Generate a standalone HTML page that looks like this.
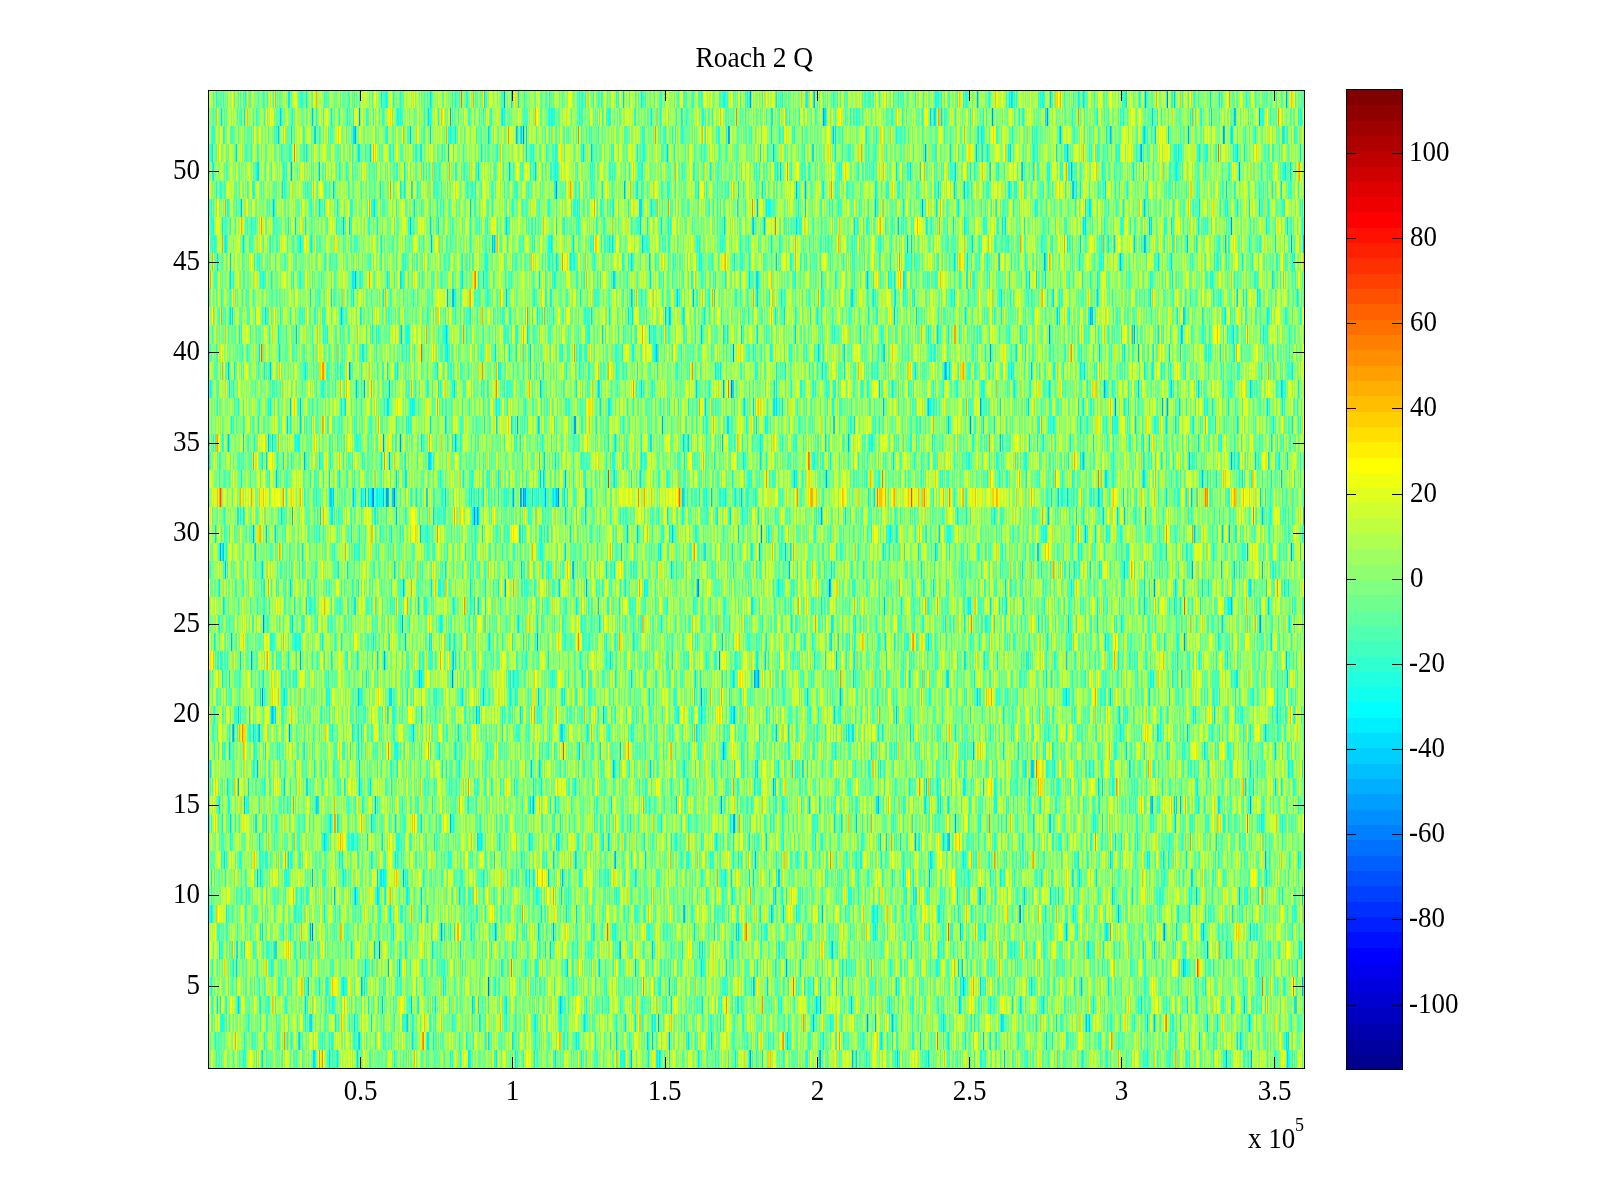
<!DOCTYPE html><html><head><meta charset="utf-8"><title>Roach 2 Q</title><style>html,body{margin:0;padding:0;background:#fff;}body{width:1600px;height:1200px;position:relative;overflow:hidden;font-family:"Liberation Serif","Times New Roman",serif;color:#000;}.k{position:absolute;background:#000;}.b{position:absolute;}.t{position:absolute;font-size:27px;line-height:27px;height:27px;white-space:nowrap;transform:scaleY(1.08);transform-origin:50% 50%;filter:grayscale(1);}.yl{width:100px;text-align:right;}.xl{width:100px;text-align:center;}#cv{position:absolute;left:208px;top:90px;width:1096px;height:978px;image-rendering:pixelated;}</style></head><body><div style="position:absolute;left:208px;top:90px;width:1096px;height:978px;background:#86fc78"></div><div style="position:absolute;left:208px;top:488px;width:1096px;height:19px;background:linear-gradient(90deg,#c8f136 0px 96px,#73ff8c 96px 105px,#64f99a 105px 151px,#2ee6d0 151px 190px,#76fc88 190px 278px,#62fb9c 278px 312px,#2eead0 312px 352px,#7bfc83 352px 399px,#c3f83b 399px 459px,#ece812 459px 473px,#56f9a8 473px 494px,#53fcab 494px 550px,#a9f955 550px 602px,#b6f349 602px 649px,#78f986 649px 668px,#d7e527 668px 723px,#a0f55e 723px 750px,#c5f439 750px 826px,#61fb9d 826px 894px,#99fa65 894px 933px,#a0f85e 933px 955px,#6df991 955px 989px,#cfd430 989px 1000px,#76ff88 1000px 1022px,#d5ed29 1022px 1049px,#7ffc7f 1049px 1096px)"></div><canvas id="cv" width="1096" height="978"></canvas><div class="k" style="left:208px;top:90px;width:1097px;height:1px"></div><div class="k" style="left:208px;top:1068px;width:1097px;height:1px"></div><div class="k" style="left:208px;top:90px;width:1px;height:979px"></div><div class="k" style="left:1304px;top:90px;width:1px;height:979px"></div><div class="k" style="left:360px;top:1057px;width:1px;height:11px"></div><div class="k" style="left:360px;top:91px;width:1px;height:10px"></div><div class="t xl" style="left:310.50px;top:1077.00px">0.5</div><div class="k" style="left:512px;top:1057px;width:1px;height:11px"></div><div class="k" style="left:512px;top:91px;width:1px;height:10px"></div><div class="t xl" style="left:462.50px;top:1077.00px">1</div><div class="k" style="left:665px;top:1057px;width:1px;height:11px"></div><div class="k" style="left:665px;top:91px;width:1px;height:10px"></div><div class="t xl" style="left:614.50px;top:1077.00px">1.5</div><div class="k" style="left:817px;top:1057px;width:1px;height:11px"></div><div class="k" style="left:817px;top:91px;width:1px;height:10px"></div><div class="t xl" style="left:767.50px;top:1077.00px">2</div><div class="k" style="left:969px;top:1057px;width:1px;height:11px"></div><div class="k" style="left:969px;top:91px;width:1px;height:10px"></div><div class="t xl" style="left:919.50px;top:1077.00px">2.5</div><div class="k" style="left:1121px;top:1057px;width:1px;height:11px"></div><div class="k" style="left:1121px;top:91px;width:1px;height:10px"></div><div class="t xl" style="left:1071.50px;top:1077.00px">3</div><div class="k" style="left:1274px;top:1057px;width:1px;height:11px"></div><div class="k" style="left:1274px;top:91px;width:1px;height:10px"></div><div class="t xl" style="left:1224.50px;top:1077.00px">3.5</div><div class="k" style="left:209px;top:986px;width:10px;height:1px"></div><div class="k" style="left:1293px;top:986px;width:11px;height:1px"></div><div class="t yl" style="left:100.00px;top:971.00px">5</div><div class="k" style="left:209px;top:895px;width:10px;height:1px"></div><div class="k" style="left:1293px;top:895px;width:11px;height:1px"></div><div class="t yl" style="left:100.00px;top:880.00px">10</div><div class="k" style="left:209px;top:805px;width:10px;height:1px"></div><div class="k" style="left:1293px;top:805px;width:11px;height:1px"></div><div class="t yl" style="left:100.00px;top:790.00px">15</div><div class="k" style="left:209px;top:714px;width:10px;height:1px"></div><div class="k" style="left:1293px;top:714px;width:11px;height:1px"></div><div class="t yl" style="left:100.00px;top:699.00px">20</div><div class="k" style="left:209px;top:624px;width:10px;height:1px"></div><div class="k" style="left:1293px;top:624px;width:11px;height:1px"></div><div class="t yl" style="left:100.00px;top:609.00px">25</div><div class="k" style="left:209px;top:533px;width:10px;height:1px"></div><div class="k" style="left:1293px;top:533px;width:11px;height:1px"></div><div class="t yl" style="left:100.00px;top:518.00px">30</div><div class="k" style="left:209px;top:443px;width:10px;height:1px"></div><div class="k" style="left:1293px;top:443px;width:11px;height:1px"></div><div class="t yl" style="left:100.00px;top:428.00px">35</div><div class="k" style="left:209px;top:352px;width:10px;height:1px"></div><div class="k" style="left:1293px;top:352px;width:11px;height:1px"></div><div class="t yl" style="left:100.00px;top:337.00px">40</div><div class="k" style="left:209px;top:262px;width:10px;height:1px"></div><div class="k" style="left:1293px;top:262px;width:11px;height:1px"></div><div class="t yl" style="left:100.00px;top:247.00px">45</div><div class="k" style="left:209px;top:171px;width:10px;height:1px"></div><div class="k" style="left:1293px;top:171px;width:11px;height:1px"></div><div class="t yl" style="left:100.00px;top:156.00px">50</div><div class="b" style="left:1346px;top:90px;width:56px;height:15px;background:#800000"></div><div class="b" style="left:1346px;top:105px;width:56px;height:16px;background:#8f0000"></div><div class="b" style="left:1346px;top:121px;width:56px;height:15px;background:#9f0000"></div><div class="b" style="left:1346px;top:136px;width:56px;height:15px;background:#af0000"></div><div class="b" style="left:1346px;top:151px;width:56px;height:16px;background:#bf0000"></div><div class="b" style="left:1346px;top:167px;width:56px;height:15px;background:#cf0000"></div><div class="b" style="left:1346px;top:182px;width:56px;height:15px;background:#df0000"></div><div class="b" style="left:1346px;top:197px;width:56px;height:15px;background:#ef0000"></div><div class="b" style="left:1346px;top:212px;width:56px;height:16px;background:#ff0000"></div><div class="b" style="left:1346px;top:228px;width:56px;height:15px;background:#ff1000"></div><div class="b" style="left:1346px;top:243px;width:56px;height:15px;background:#ff2000"></div><div class="b" style="left:1346px;top:258px;width:56px;height:16px;background:#ff3000"></div><div class="b" style="left:1346px;top:274px;width:56px;height:15px;background:#ff4000"></div><div class="b" style="left:1346px;top:289px;width:56px;height:15px;background:#ff5000"></div><div class="b" style="left:1346px;top:304px;width:56px;height:16px;background:#ff6000"></div><div class="b" style="left:1346px;top:320px;width:56px;height:15px;background:#ff7000"></div><div class="b" style="left:1346px;top:335px;width:56px;height:15px;background:#ff8000"></div><div class="b" style="left:1346px;top:350px;width:56px;height:16px;background:#ff8f00"></div><div class="b" style="left:1346px;top:366px;width:56px;height:15px;background:#ff9f00"></div><div class="b" style="left:1346px;top:381px;width:56px;height:15px;background:#ffaf00"></div><div class="b" style="left:1346px;top:396px;width:56px;height:16px;background:#ffbf00"></div><div class="b" style="left:1346px;top:412px;width:56px;height:15px;background:#ffcf00"></div><div class="b" style="left:1346px;top:427px;width:56px;height:15px;background:#ffdf00"></div><div class="b" style="left:1346px;top:442px;width:56px;height:16px;background:#ffef00"></div><div class="b" style="left:1346px;top:458px;width:56px;height:15px;background:#ffff00"></div><div class="b" style="left:1346px;top:473px;width:56px;height:15px;background:#efff10"></div><div class="b" style="left:1346px;top:488px;width:56px;height:15px;background:#dfff20"></div><div class="b" style="left:1346px;top:503px;width:56px;height:16px;background:#cfff30"></div><div class="b" style="left:1346px;top:519px;width:56px;height:15px;background:#bfff40"></div><div class="b" style="left:1346px;top:534px;width:56px;height:15px;background:#afff50"></div><div class="b" style="left:1346px;top:549px;width:56px;height:16px;background:#9fff60"></div><div class="b" style="left:1346px;top:565px;width:56px;height:15px;background:#8fff70"></div><div class="b" style="left:1346px;top:580px;width:56px;height:15px;background:#80ff80"></div><div class="b" style="left:1346px;top:595px;width:56px;height:16px;background:#70ff8f"></div><div class="b" style="left:1346px;top:611px;width:56px;height:15px;background:#60ff9f"></div><div class="b" style="left:1346px;top:626px;width:56px;height:15px;background:#50ffaf"></div><div class="b" style="left:1346px;top:641px;width:56px;height:16px;background:#40ffbf"></div><div class="b" style="left:1346px;top:657px;width:56px;height:15px;background:#30ffcf"></div><div class="b" style="left:1346px;top:672px;width:56px;height:15px;background:#20ffdf"></div><div class="b" style="left:1346px;top:687px;width:56px;height:15px;background:#10ffef"></div><div class="b" style="left:1346px;top:702px;width:56px;height:16px;background:#00ffff"></div><div class="b" style="left:1346px;top:718px;width:56px;height:15px;background:#00efff"></div><div class="b" style="left:1346px;top:733px;width:56px;height:15px;background:#00dfff"></div><div class="b" style="left:1346px;top:748px;width:56px;height:16px;background:#00cfff"></div><div class="b" style="left:1346px;top:764px;width:56px;height:15px;background:#00bfff"></div><div class="b" style="left:1346px;top:779px;width:56px;height:15px;background:#00afff"></div><div class="b" style="left:1346px;top:794px;width:56px;height:16px;background:#009fff"></div><div class="b" style="left:1346px;top:810px;width:56px;height:15px;background:#008fff"></div><div class="b" style="left:1346px;top:825px;width:56px;height:15px;background:#0080ff"></div><div class="b" style="left:1346px;top:840px;width:56px;height:16px;background:#0070ff"></div><div class="b" style="left:1346px;top:856px;width:56px;height:15px;background:#0060ff"></div><div class="b" style="left:1346px;top:871px;width:56px;height:15px;background:#0050ff"></div><div class="b" style="left:1346px;top:886px;width:56px;height:16px;background:#0040ff"></div><div class="b" style="left:1346px;top:902px;width:56px;height:15px;background:#0030ff"></div><div class="b" style="left:1346px;top:917px;width:56px;height:15px;background:#0020ff"></div><div class="b" style="left:1346px;top:932px;width:56px;height:16px;background:#0010ff"></div><div class="b" style="left:1346px;top:948px;width:56px;height:15px;background:#0000ff"></div><div class="b" style="left:1346px;top:963px;width:56px;height:15px;background:#0000ef"></div><div class="b" style="left:1346px;top:978px;width:56px;height:15px;background:#0000df"></div><div class="b" style="left:1346px;top:993px;width:56px;height:16px;background:#0000cf"></div><div class="b" style="left:1346px;top:1009px;width:56px;height:15px;background:#0000bf"></div><div class="b" style="left:1346px;top:1024px;width:56px;height:15px;background:#0000af"></div><div class="b" style="left:1346px;top:1039px;width:56px;height:16px;background:#00009f"></div><div class="b" style="left:1346px;top:1055px;width:56px;height:15px;background:#00008f"></div><div class="k" style="left:1346px;top:89px;width:57px;height:1px"></div><div class="k" style="left:1346px;top:1069px;width:57px;height:1px"></div><div class="k" style="left:1346px;top:89px;width:1px;height:981px"></div><div class="k" style="left:1402px;top:89px;width:1px;height:981px"></div><div class="k" style="left:1347px;top:153px;width:9px;height:1px"></div><div class="k" style="left:1392px;top:153px;width:10px;height:1px"></div><div class="t" style="left:1409.00px;top:138.00px">100</div><div class="k" style="left:1347px;top:238px;width:9px;height:1px"></div><div class="k" style="left:1392px;top:238px;width:10px;height:1px"></div><div class="t" style="left:1410.00px;top:223.00px">80</div><div class="k" style="left:1347px;top:323px;width:9px;height:1px"></div><div class="k" style="left:1392px;top:323px;width:10px;height:1px"></div><div class="t" style="left:1410.00px;top:308.00px">60</div><div class="k" style="left:1347px;top:408px;width:9px;height:1px"></div><div class="k" style="left:1392px;top:408px;width:10px;height:1px"></div><div class="t" style="left:1410.00px;top:393.00px">40</div><div class="k" style="left:1347px;top:494px;width:9px;height:1px"></div><div class="k" style="left:1392px;top:494px;width:10px;height:1px"></div><div class="t" style="left:1410.00px;top:479.00px">20</div><div class="k" style="left:1347px;top:579px;width:9px;height:1px"></div><div class="k" style="left:1392px;top:579px;width:10px;height:1px"></div><div class="t" style="left:1410.00px;top:564.00px">0</div><div class="k" style="left:1347px;top:664px;width:9px;height:1px"></div><div class="k" style="left:1392px;top:664px;width:10px;height:1px"></div><div class="t" style="left:1409.00px;top:649.00px">-20</div><div class="k" style="left:1347px;top:749px;width:9px;height:1px"></div><div class="k" style="left:1392px;top:749px;width:10px;height:1px"></div><div class="t" style="left:1409.00px;top:734.00px">-40</div><div class="k" style="left:1347px;top:834px;width:9px;height:1px"></div><div class="k" style="left:1392px;top:834px;width:10px;height:1px"></div><div class="t" style="left:1409.00px;top:819.00px">-60</div><div class="k" style="left:1347px;top:919px;width:9px;height:1px"></div><div class="k" style="left:1392px;top:919px;width:10px;height:1px"></div><div class="t" style="left:1409.00px;top:904.00px">-80</div><div class="k" style="left:1347px;top:1005px;width:9px;height:1px"></div><div class="k" style="left:1392px;top:1005px;width:10px;height:1px"></div><div class="t" style="left:1409.00px;top:990.00px">-100</div><div class="t" style="left:695.50px;top:42.50px;font-size:27.5px;transform:scaleY(1.055)">Roach 2 Q</div><div class="t" style="left:1248.00px;top:1125.00px">x 10</div><div class="t" style="left:1295.00px;top:1116.00px;font-size:18px;line-height:18px;height:18px">5</div><script>(function(){var c=document.getElementById("cv"),x=c.getContext("2d");var P=[0,0,143,0,0,159,0,0,175,0,0,191,0,0,207,0,0,223,0,0,239,0,0,255,0,16,255,0,32,255,0,48,255,0,64,255,0,80,255,0,96,255,0,112,255,0,128,255,0,143,255,0,159,255,0,175,255,0,191,255,0,207,255,0,223,255,0,239,255,0,255,255,16,255,239,32,255,223,48,255,207,64,255,191,80,255,175,96,255,159,112,255,143,128,255,128,143,255,112,159,255,96,175,255,80,191,255,64,207,255,48,223,255,32,239,255,16,255,255,0,255,239,0,255,223,0,255,207,0,255,191,0,255,175,0,255,159,0,255,143,0,255,128,0,255,112,0,255,96,0,255,80,0,255,64,0,255,48,0,255,32,0,255,16,0,255,0,0,239,0,0,223,0,0,207,0,0,191,0,0,175,0,0,159,0,0,143,0,0,128,0,0];var S="kkjikafhXdchddfafehdjjfimpbhifajaglacYdlqbbgmjdgfebfhfeZbjfYijqjfZjsgchcddfkhkfhWWgdhjmmmhdbbYadfdWcfkjdbmlpsghiijhgZcbechjihgeedhhjbjecedgdaakhbfZlbgiafkkiljjhjdifbgnngjffgWdbbYXZhojmhXdhegicYbdciogijjlfipmehlidlbfeZhhafdVYehhgifliijcbljghehdgYjeYccfafwghegYYffnegsgbddigbeqoVbafenllifhljekhfbbaRehejiiVagmqpeVefjggZedghfhgjiecmhkjebegibbdmXecfdgmjiidhfceejhelmnlheejhadZeaYefYhqdngefZkkeeZcjZbfkngcgeekokgiYcZolifUemfikaimjhkaekbifWcafajehedkjfajkghcaafhcikilgfhgjbleeZgmmmbabaihgicaZghjlbbeZbjmnjglginhdfijijaafbYXZdafoinldecicllZhofkZeXeXQcofjgehncghZkqfnifmihmnlbWhbeacYjcddkbeehiehfigdfirhinZWXcqlniWSghbkbjogbicjcihfcgYcchalgajohbebcljhhfjkffpkfohagbaedaaaicamelmgZfilhlodliednmZdeedYhcccbiiebcjiigfhYlfemkifZfmfmediilfcXYZYfeXpgbkoeaakhegmdeZorpjkYeZYachjichgldSYmjfjiidefbXciiiirklpihknjhgZheWaVWbZhYdgmlihglfighfogghiiikZcYdYXbjjhlcUZbjqcpqnjskfgZgfhicldjZfcfdWYejbVZdccjmlegfZhhelkkmkbbiceglnlgjifkjcjfiZdaZVmhimikcgfjjcXZikkZSZddhhccghiskjeeikijiYPkliZXiUaihkhrfZfmilfakoqhbZcgiaefggfihhdgfVeejgfgfdWkZbghijmitfgdbeldbghomiefeYcdddmlmfacgeejicdcfadihccfhkgZjiihbcfjhRZekkrpomaghcfgcdcdgfgdbfcrjgfcVdibgcgikkfkgikgbhcbZhfVfprgghkgagiZbeehjifZflqigmokkdhcdecUXefdhjlefebYdcpjhfpffceflbengfcTbkfXeglmhjZjimnihdWdgciijdXhkhfffeXhadehZkklofRclnggiYablemhYmdhngaigaZcjfioopobkigbXYdZabhfflgjchiifceekmdifheYhiaVZXbgmgmmfXgirpmpdfdmjRgagcehgaihfhdnjihbYdfljbfikiaicgYgcjpodaZghhhjjpihXWZXdjfdcfdghhjggnijhdcacbbjfkikefsonjldbgkgfeeaXcXYaZfefccijgjjjpikkhbiihggcgXdYbhfdhfeenmkcibhbnbklZclmabYXZlhfdhjckbcfnfgljlliijgmYYjicfkeifeekbchaWfffgbrfdYblikfokcjgjiiidYigifWXkeeZcdfgedgihpkjekdXYgakhZcmeYflmgghlrjmgibafbhdeedejvfgfbfcelYehchiflcigbeekbeenekZffieWWjidjecZjqfhlrZdiZfgjdgchgeYkmlednmeggfbkkgZbejfkhcRVVbgmibplgfahioonpifgaddigXdlZaeZaeZehaekghjfkibgjkeglhkmghdifbcdfgZZdfeqngiliXceoZjfiefkgkgdecdlcXcmnooggUZgZUWdktrcUcjZabeehlhjpdYemhkficggglldhXgrljgjehedfeXliYighjcQafkeehffhcmegfchlolgjaehjbXkfYXdkhmjjmhifdidgcfdkihoVXQbgjjdolhchfeghdldbghgefdXgcejhufcfmhajdekfeighceaXlkmeffahdeZiljdckghgakYdeXdggbfkhnmlnfcginnihedcidceccUccfgXnihYgheglgbkifqjfgdffbcfgijhiedjXetclZfnpfZXgefhijhZkUheeeegfbjfmiehleenecgbTUeijjbimflghialefdhihmjfSZbZZfjpnefYggcddbjuomieoggehgiadkcbkilXdZXelchibaZaejofenokXZedokjcabbdghkbfgmhhcfhccehahdmogcplkfeijcjibifiegYfYeTbhjmdmqeccegVfebjglkglmgZbhgokjjdfdVUfefZbihemiflagbbbfgiinqnmgbhgkZpdfkbbVVSbfeloigedkiffifhgmnbdhdihigghZYXkihhdbiemigeefmsegjcbbTefffgqkkfheebagjjdgUgfhlgkgjghngeehtiYaXaebbWdckmeegkaeojjicjjiklZfdfcaigedffUXbhldniidckgfkpcefoukjkmhkeTVdiWUbPdjUfemkghljhaggoigchebkofahbqhjacihcokfbbjcdaieiidhkbgvjjafdigaifaeaffdhahXkifcgfekfehlggfinddehmhgkbabdfdmeeklhikhjdfYZZkgidffdkbiujjbgaihaaYeliddiXikYlcgndYZaeeedfcggbmcidgikoesldYnpijnieeigZgXZjihhlhXeRSjmhghlfccfhejcecajfadZgjlcdmglobjkkokghdgVidggfffXZibZmnpjikkhZaXkffhgieYledbcfjcgdkcfjbfhdfkjgfinmlpcYTfVciabdiZeiggligeifigkdeghkijolbWecedjlbecXfegqpngbkggegrighicXadcaadfZchhbeglcjgilfdgkgabgmgfffcdghgcccjnkoifZedfhfadefifdmmhbcgksjhffeaiglefhXWffWYXakdngbkkmqnnaZefhdiokjijhceeXdfgdhjehklebfcrhejgXdbdZaegcddhhcifiehhhjkjicfWTadllnhimkjhcbYfecgekpleYmkcjacefbpijhZbfkgifiWfdcSWepfcghddcgjomlikdojmejifcamnihcWUYcZgihYcfaUkkgnoljlojgiUcdffhggfhejZehbclhcRcehpigcdeiicckchnlimjgekkohfdgdjicRTihhfiZVWdjlickhhhgedagglakhfcaXgfikfedjihjhpflodjikcgbdlhWWXhdYiiidmiZZaejedqlgibcZVgedbiqnmdfhmicedlkjhkeaUgijhndkdcZddgdYgllhiYbjjdjhkbcgijigjlbdehlchZaceddefYXchmwmfgjicefZXiVcckjbicmohigbihjkmlgefdclioeecccdcmledijfkbdnYdkhdbVWddfgiZcdebUfksnqmgibeeajljkohZYffXignnggcacgmeihflgmgbhZYcfeWWficghlemhnneehlbbhibZfaejgTgknmajikgedlifZfffjkgggjkhcildgeVcidbibachiedfdaYgermddfghhehpgdhllmhehjopahdVeeeZZdYdggjicbglkgiZadfffabfXYbllophgbklkkjiimebekjgkiYZVbdhqhhfTZbgdZhgccdjncjhhldiaaZjnkiclmkfcdjbdlkojhljhcWidagbXZcfhkghfcghpmfifnabbeeYUclogicXikgejifhgecjfamolhhadgfhdgZedZcfdkeklgndihlbabfghfdZchlglcicgcbclfjiiijcehehcieejngekVinelkkXbeeeeTbbeegipgoidaibjjfdhikieicihcbdXkmdfnkdVVhibifdddmedlofpodncibWhighfeagfecdYbajddfjjhqjitgjiaahZchefbaabgfnkhqiceZfkjedgkecigfgbciedfgqffoihZhjkghfjgjacRahfqfebcdYZnhlceigefgjmcVbeikeojYhhhZcfeimppioklgaTcbejZVdgebWbagkfhhkolkkffgkmreeWZUgibfiomigjieaieejhldibXYecZkdfhfikimhdheiigklVcgjfbfjYXaTZicgchkojmkfnghsofhefZeYfhkrcZZcjgeacdfaeiibikibYdaYhllondkijolpjfdeYdecURdakdgZacgnmbeechnglndmpkojmkcfecYYXhWcbYgckhihkmhhphpifYaWahgdaaXXljchnffaXjxjZkmkohhkfifhhXdYYVfdcjjfWfediefjjemnqjhkjhfecafdYclnYZgffffajcemnigdcdlfiiifihgdVfieeegiXWfghigfhkjhcgbbfgkljffemkebjdggkdhhjmifjbebYWVfjhkheahknfeajlkhgekejicYZdZgkjZSelfhfcieioiocigqjdlafbjfigaTjhbcjanhfljdjjmebhfXahelgfYadiimZefcfdhfidlkpjfgebefddbfalilcgfklbkbkhbhgbbgZZmehiklWajdnjchoficcfhihrfXfgZleZfirdZcdfcYbhkfijfegtlefdkYYhihkbgbYfcdhbhqillcYdVcfhhmgljifjdhlebadgjopjeZhifeeTaffaehonlhbcZdkmnjmhYegZbUakgnlfZhkbdlfiYZhbYXbXchngnkgimolgjhggncdZgkmfeiggggehZbYdbhmcbgmmkhfhjieZadafZcgkimfdkefZjlfYehmqlgfeZadYXieilhkgcefggekgejcelhmgdecdchhfbsjndbjcZdbdfjhhmohYYhecdmifdaqjhfkdWafqjddbaegcjgfdghicgcehmfZdjepajlldklmgekieaeZfgYflibbibdkgdjolcYcWciUbfdhimumebZhijionnfeZaeZamhZXchfihahdmfeccfdjhlgjkeonidccdYbZjimqkojibdkjefcbXhkgZbmbbbhaebcYfdbiiqlhgrohhdhdcgllkhVbcgomaeeigYZcVcdkhefgkdVonjsfccheifljaeadfqiZeamlphbgaaadYUiefijedmnlpaeeWeihXbedfhmirkijgekXUkjihgaaXghfgeZkjghlmkkgmllbhjkVTcaffjebhfbWrigYZdhlfimggXZXgfnklkjdmhYaZjlpthXXeSXfbcZkodZcgghjlpjddoljmmrffijeXaacjjbaekhhZcbgfcafdkjgkcjejebWdhamibngmVlighaiiieZfjhfdinidrdggmiZYefccXWZadalZhjopdhklkelgdfcadpjgcfZeffgehiifiekfkhfafgfgfaXeelpljigbRdgffjkhehjqehccphfdieXdihhebfbdbekinlidgbibYZWdbchVaejhcikrtjmicekogeieeXghcZYfdZcimojiijkdcdiebineekfjachnmaXZhjmlfebibfhmfidkgfcccckdhkcVeYadgfdkjqgffihgoiihchXhYbdcbjrojdbjknmofcZddfZeigTbcigifgkgihjgiYcikdbghihhldZiejeblibdeegbdhjhcWjccfhgceoujkZeifnmkWZgdWZkjkhnVWlmjfXbebkmhkhheqceklaZdbacdjYheheoaiedlgknfoohgcfjkhdbZbgcaYfeXhkheeaimmjhinefbYdjbijimemgiZhgdaflkgcacXbjhgdjkogbcZeecfklfgikhbhdeflhigekfihYWPbgedecefbkmgptqogeYbieXjoobhbcglecYcabhffgimcWehmlpkejcafdiemdheleiSXkihksffdidXWfgjZZbiifbfdjpkcpmlihghaadfgiYYaeeogeYligdfekdcchhkjjgjjiZbbWinnlobkYegjklfdcgfZicdccieacbYimcmreigkVgfilYdgjmmfjejgghZdaimcVdcaohbdgnjbbmadkifcfhgkimikfnnldfSZdaehniZSahlhdbdehgoiikldXWdggildpunggZcadcnegdllaYdbffacgffhflbfdgjjjkjfikkhgWXbhlhafjjdZZYhhpqnfiiaYZjfZeibmejjdefeihZeadgglhemlhgefbmnYZdcVfahinfoemolenncUabiiifkfZTedXadjYcijlqfdjojfaggaaYedjmiklngiolfgpgcieXVbakeYZXidlkqjlZcbkhkeadlhnheddbdbZkkfcXecmZekfponekmjpkXengjefUTabWgidWgfkojhliZijgjgfkcYdaieYcVjillkdjheXjhfYiglidhZXdimighfdheekieificbXhmnkigigbjlkhfghbdajbZafbmlXehbegdfhefagdkqqhhfhcZcaijhfeigfniedkecjmnegcgYbigUfgeedjgXYjlkdgkhilljiachnilhbfhcadcgZhdgZhhpcWgkagknjaVljlgeeacZbigclmhYimfldcbdXiaehqllfffldhtfXZcljlddfaedfYThgeqokeggellkeckiehgeeiidbgbffaTYdflihifogcckfchmgkemdddbejdolkegkdcbZgdndegcVZebgYfponhekgjcghWbgiimhchphnhYYZihdfmhdgchljfgamtlZaXVbeckichacbffdgiimdhojXhfjiknjlcbemeejfaVhchjdiYechjjlgbakfgjidXigacgYfhkidZdenijjaifahmigddkiijTchhZahhibflhmllebaimcYdkiiiifhifnddbjmefeYZehcejnkdYdecbbfjdopiineccahfggfmhcYZefgehibgiflidjpefkkmoahZZYfXdXlffabkibcenijmtndaljYabcgimZedZhZWjijmbjhijjfffkWicnkphokjjVVVcejjnfieaWcbcbasldfgZjdifdujbcbjjcnhbkkdadchhbZdlfiehehcbnndkgmcedbYmheXhlgYffYmkcagljidngffcglVZildgeeagjnigkvjfncSelnmmejbWaXXZbeabdfhjiikhhcfkelfkojegdahWfbidmfUoiffdgcofimhkeaajmekdfjXfeYghifcYcacgkjjgkngebdcnpdjgYecgidmidXnfghkbTcYcogjbsijgdkgccdfgccohmfhdWainngeafjhcgghfgcaRbeakmqifgkoeeVaiksngcfncaeekfggiodXWcgjkjacicdejeZdekggfeqYhehagdioeYjqkYWhpjbkbbbbgbekmogXdghehbipkhjjjifnckehcXYZkfcaegjeaekleehfaffhlfbbihjfjeceffgkeXeoncgllpmVebaVWailkmgbnkfjdmccdeZhigidjdZcdgiocWdlmhfenhibigfeernleZTYegZhdkggdceijdZgmgedgkcglkdXckknggbgebbgjjrmcicYfbdbcVfkfkklnchfifoqiihhkcXiiecYcXdgdkljecbWdjbgghkmfjgVmjgnlfhigVdbZeqehaXbiiimkfbdgeecaYZlmojgjekhjdmijcagXhkedZbXhglolkjfWdcabeicYiikfZjmfhlspkfcdafecYbbeZfdmdmujpncbihkingaadadddedjhjaedWlcikngUffiglkfqgWdhjefbchdiffekhdfljdcakilmhmiiYddcgadTbbmjjUaZjljihgjkgdmgcoifZYiejbhgdWhgfjbkkiicdfckknakebcjihkkllihZbTadbbiefnkljjmhkfeieUbkdifZcVifihadlmhefbgZbihehghmiagdkmjkcXchmfcbbfZhboihZfXhehjloomfahhdejleZUZbYhofjgiigklgiefjjagaeiZZhhXhdafdfgrokiijfiedfkmViiiogcXYiechddcieegZeYZdhgmklheockfjchiXahkiefZZefihifirfgdhicfgghnlghpglfZbgfdcaabUehilghWefknjchlnhdebVehjdfaXfXboolkgdohdhflebclliggafcffgdihcgegkffffokcecofagdcdbcUagnijdkqkffmckcafikndeihlheVTeaehfjdheYTakmkklgmjewoikcanmeYdakZjdaebcdVYgYYaknqhlkdiifcYgjgfdjiYdhddchffgnbodebfirpgggdhhechgllcVcbZakgomZflZXccldmcafihnqsklhnYbddmcbZebjlYTfhZdZhaaggkjaeaknnsnolkkhncWXieaYedjeicgtjgjcccgZkihggVidigfioieiWZZcZighhfclloiijggZZaZgijglmlgndYYjifVcaVhgmijeifiicegcejmiWfngbfgjemlcjfihfgdaccfgYgfijhiZjplehemfaZahggelhhokfelkelbVYVcffebjZhihjbjknaggXcfcgjfejchmijhkbXZbjnkngdYijhaZggljeadmqgiegTZVjfihagkiiljgYZZglhkVcYgkljloflfZfihcheqkiehnedWblccbcacZejkZklnedipfgifhekafceaQhjighfgmfbmggfijhcaenadhdgfjohhihgWcacgifeealpiomdjljbdVdebZkbiimcgmjcXbolcbZeYZbklijhtfYWXckhhhiejhijklehZVbghhjZacafhhgqjhlpfajlkfiZXjacggaagdmhojmkibggiebaejfbaZWbcdnnpkjeYWbgqjacgabffgfekkiifegfqjipefkhfbdbiiekcaggaacbfehfheghjifflggnlkdbfobWfgbiheedgdabgkfbfkgmelkafeebecfjmmljfahdfZekgjfgdScginmkeredcjiiZbieaecegcelgfdgidfncjlbYbkfghhpldhjdgeaaigahfTXTZqsmebbgmjniXekjmeefhikfbcdcahklljfdgYeXlkffdmmiehhgdYXZWYkhjekhjljpfdhfhphhdaVekhkbcdhgimdehdhZadYnrqonigXigYahacWbeVZfemmndbgiffcdhnlmijlejjlkedfUYbcaZcclihkhhmmibchaceZifYYeligelmadhfhicjhkhfkhmjpeebYdXbjiedhnhghfhhmfghddeZbZbbcimmficikhhklgdYcdfibbdYddhklhiimbdcgljiehhcheWbghgfhiYZcdhjgdlddmjifjskfjojcfbhehgjYefhajeiefdYbkcfYhaZdhaehgdhlsqcjljkmgachdcYfacajkrhcgacihkedfjmnjedfZaXehcjhgjjdcZhglfbklcjemkeeeSeeiUefamldagmjemfkkgcbdkgbjlhliohdcefccYakgbbbdbjdelimikrgiceceaUdfkigcYdakolnjfrjngilbYbdgedbagebabYficdekfebbctqljbaihlijhjjmffcehgXZbcbchimbZYhjedglogkgmtmkWeXahYnfidhdeUgjfeabfhkmnkjgmfcgacXZtdjeZWfdembUclinnkefkkijhlholjaUbcngcjYeaSUcffcfiipofdbglpkfcXlgeoggiYXrmaceigbflfbZThighlgZiWajnigfeelkokfeofkcgdcZZdkicfTanXaioognphgcckckjieifeXccihfdcbhZXdljgpkegkfjfghVijihflhkZmjjcbgRgdbfoknddjcThdfgskddeVcfgbcfkiahnhUfkheklhfglibbehdidjpnijXjdacZddekjeebjbcmhhjZfkijdfefabgdhokhjddaamffedeehfigeenefjkdbelmigffaYdokaZebfdcZfhikhmdifdbhhldgbgmdjbkhibkgdiccbZhmcklehoebYllddhejgkigcfiZflljfaZcZdcckhjZgblaahpcdblqkleageiflgfkhmfbhieaaeeaaglogchfkmhgZXhqcZcjZemZaimglndgefhcXYYdkfddjhhegfljnljadbjiigmZgdaadfjdbilcafdhcbroqlekoifigZgkZlcYYceXdheVYbifiumimoqkcWZcZXcdcnmcigccrjdfjifbbYcghfljjbccjgfemfcggmnkggmklXYchjiYecVYbfjihegbihlkgfggUXmingYcdbjofpndkjhZfcmdXfakchbbfcidmmbnkeghklncgdXZYedgefgbcdbYdhojhadkpkoqsnfglefbbWhceheZaYdcjgidXbjmohegfilmfmZcbddjdhadgkbTibcckkmnkflliXZeciskikoYakgXeYhkfagddccahmeZhmlnmjgcfXkcgihgddjlcfYehbmdmbjZcZgdfhcdhchYnocbdiknodgfigXaoilgeeejeWgiffjjcluldkofZYbacdXemYccbebifbghnjfojinffcneZYlmeaneebpfYdgebVXlajrqloochcVhdgajkgbaecZgilmcfbYddgdhfgkphWUhomogdkkjjgXhhcbhdZeikligXccmghkcZjmaeldffecSVaemtqjbdjfgldblkljckfhiibgZfdmfeeWbecehijmoiihedaekfdaYYeXkliejgpjjdkjjpfXTYbcgkdkeagjjckjdfggdmfhfgYmoilikhZbcbVbhidnhigcfbZVdihffjffhfhjfoffgfadZcgigdohoegmdZhnmjegjfXhaXZiadnkgcXiaejeekimnocffeWbjlddeicbXfokjkchnnhcbjefgebfccjkXYgcilmqdabbiiccYaXklfeiflirdhtiiebabemjdicggdgkkYVcdYgiliofdiiaahhdeffhjepkhpjcZbbXbajicifWbkhdfchheiojmlgflikZgXkijddZYdcddklqidgjagehhfcdjZeeefhglgpblgbbdghnjhgkjpigfdecWWYSYgiZXabhhhfkjtokheafhnjlifhifeeVdYnhhiYjdjmmVWaYclngahifblpomfgalcacdlleghmabZejgqfgdZcfdcfdkkimZZkdjjhgbXVefhbfkeddposwljWddfgVdcYahdljhbajhiiklghfhZckbaeZdfihhdfgijkkigdhmfifeachikeVffjpoZbdmfekZbXYfgffdehdgejmlmgegehfZYepjZebXosjgeikmcdihZdjXkhnnkhgdgiacUVYggheahjcdgbaggkgjjpfeafinhjhnififcVdkhkfjkfZceiYkkgbbhiiZcffcglckdbaijmfaolXYemrfjgfeaachalhkdajkYfYgjhfffcgdWdnnhdcllegnjifYikloifhbVbbaeidVUXbehpejggeklordeilkdndiedicigbdfilbaaXmgeebiieehilogcdgdhbehdjpVZdicfmkfdgijhXZcfiejollfbgimhcafXjffelbhimmdXTZgheiakopmqdadfdhfnjWaaXhcWanjqnsomVWXckmmaaeiidZjdfhjfbecfZcZobcdcZZcloriinljhlfhcijhadmfhYYdjkfoWWinrgaXZfeeighnfgdjcahXmlhfiicfbcefefedmpfWgpijhieffegajiieWcdUhoijomViZcmfZdeVjgfggmhdhhjdhibgflpkbdaZiifaekjhhmliWfffkdffYbejifiWaZfmllkocgbbhjgkgfffklfdcghibfcZddhigiigcjlmebfjhldhXZZgdfjfkdleagmajmkbagWhocZgchedeiigmomcbdhmflcgeekfgnjaZbfhZYXcgfiggnmgflieibgehrldYefacgcfjfmfckgechefZYdZckjnfjfjcfkjifVYaihbiiYiisobjhdfheafgZiemngiadVZdogdfjbdlpgYceklidgbZdnqpbgcgjkdZgldacbikkeacfjifhkgbgkkcggeecbfefZdlbdefhchiegkmgifbnmkffdmffifjhffVgiihbebcZcjjdbjgkpoeVkbZcdiecicrdfliZekfYdWfjibjnohielgbdhgfbffgffcmbflaWgspiedZbjgilfehdgjiaffgcggedfYfelacgifkgigfcccgdahhjiomjjmjkhnhSeddhTSZXeheiYcimkokhhrtmkkabebdZcigifbeXZccgdjlidagernoeecTcccfjineicdiihgiljeifgfiheYXdbhggfqnkkXYimfWXffkggifdcdfkieaaggmhellnceghWdekggfbhofmqdZaabachjgchjehbbfflijncimhmdcZlfjajbcTWhalsjbcgXaehYdfljmkdrmifmjjigZbmjebacdljpceXTdXecknbihjelmiZSghZZodfkrkjafeZXhkthVkjoeckdeejldjffgkgidYYeghabfjkgdZckhehtjdXUdgdhjdgkbefXonrdelfpdedWbeZbikjjmhdfgdghldkgZijhahbZdjhgbifitldYYYdkhehccimgedgnibjmnlfageflZVVZdgckgjoohgikcZbihfYWdZhceijgpiifknoklddiWVfgeemkfYdZcbkefmXaWjiffiigjiocbgidjkogkggidclcglnhaidebXZcWifnnffdefhihdXddhceaedfqmhhgffffjlpkjrdfhjdcYaVfeakhbgeXdmbdjjminjhigedbbYghYbfbgefcghrsmjiiXdihbXVjknhcXeZajoiljjbfhiihidgcfeccbhdgiqoeaehdjYUYgjhmkgmjdfbjfXiidfiffjeengcejddcmnjlbaekaeddeZjegaaVhrjipfgchhklcadgehiddcYhnhnpfdcimfYcjigXedefcadhohcnnfefminkegYahcdZeYbiekjkfgccdiodmYUjnjihWgeWfjnnhjhhohVaWYjjddjhndfgbfimZeimkhdlhnjjeaffmdajebWZhlbgdYjggnrdjjdcZktdbdaihfXVcVgekjjjdbcfjgmgabbkljggZoklmhfacdVcYbnpbegmqidghXedmkikgfgXgkkmcgffaadacahqmibbiigYZgcjidoYcYciomijcfkklgjhcYTYbfcZfikkfijmhckmhWYhdcjgfbfgiYiplglnffgbdiqagZahbgdianecZkjhndbgcefehbjhdcgfhmiZeggfXbeelpZmccqqndficgZkhcllpdceYegggahodafbbdZWidjejfZhgdqsghfdilneinZdcibefcfZZaioifYXekgdchmifgdekjZmvechlYkmlgWdafcYmtdfahbfchXeghhmnffbbldjomnddblhdelbiigidaXeZbajVbeggkhegiiimoebogWbgljkiladgglbklcefVcbbVdlnoklbbdecdiagfhhifkmleegpmknciTZeZTVehigllfgphcZVXkllmgegngaalibgjecaWahjgZejmfbihmmmiafehfhdejncfggfgdgmakbcahfiXcigbemmnefceabkchgdihmrmfcWccogcacbVghnkgjglhhXafffkmcehpjeekWglhleaWbggZeiinehggegacjffijnffaghhcicZcbhhdklhdbggijiehgWajiecgeYXnhgghjheeemplpgcTfgafefkjgejbfjnbgfejhUeagdbdhbjehoghjlmihheXefrhabbgehedfgagfoiichdgkbVbeimgeagkhkfdlnicfafdacplkbhYaepfheWfqmeehbecedegckbfnohhbfaihchceaagnomijgfeihZdjideeiieiYUfWjihlqkjcYXjfnecgledcnkkeecpiXXSUTgeZmfnhgioioeplighihZleaZgbcllhbdhbbgemccafcjpjiekdehbhfgeZgggdhdfngiegfjeenjpicehgaWleilmUVXgeahljchdfhiggjiWZekgdhbhdghimhdfpndZcXWhkloZdbibfjlopjafmnYYfihhchojZagidaeggggcWXbicoidimomkgghdgXZbeghhYmfkigeeXbomXdggaeijdqfdifedfrjfafidcgdbhmgWeYmjkilljiZgegkdahccchegmkkhfZdkqhhjjgWbcefdheZggjmcebgbTicdhljfpidgehdhZfjihrkefmgYcZdXkhkhkgebbilfYhcbcjifYcjhjhfgfrkhghikljYhinYhWddjXgYbbhfgddchebijpjlfkopaXTfkfaZXYYfngimnfglmnedheotfcdfkpeeidhZeehbabXUXffhgohgkijkdabjugiXcghadnkfhdeegfjbZjggfebghdgmajffilklcZZcaZigakooZYYfikelslnjVZbhkeaaddfkbnglhjdjgZbZgdijjdjgejellkgdgafbjhldfceaidhjombbZYYhjjcciibfgnhUdkaimjefehmjejgYeohhZccfeeidZijcZYomjkktnlgkjiUbahXaYdfhddZecksdfaZeifkhdnlhklhlaYealilieekgXkgggcTacgigdomjcdgccbeihgilVYchWbliillegchjmjUbahliegjlmggfkZVgkjfjfbgZdcdmaejkibjdnhkkedjeiehgglcZUpgkfcaneafiibejdmgiiflbfagYhekgnifddYeXdddbdegnhklmhqdcgdgjgehecWfneclcaghjbieklglhcdYcakdllaeedepibacphoccdcgigaffjdljcicbdhsjkkgZeWeZfleimcUYeadgjmjccWfobfittikkXcclfgmlacegdhbajeXiZZdhikjjgdbomiljjhigZehgegfadbYfgkgiikekeWcYibfYfmhmicecikqggecdikmhfePaedglcgdefemhealkhcdmdZjbgocYimqkhZbcfabhmjjnYkgXdhckkrifcYeoeadbgeccelYmjonlebijrUZRkeYgjbbcmefkifgmimddbjbVekrcYjkfhlkYdglojkfbfZTVfggolgmjabcggjhfeedYYfajigYcdhmnmmrnmggjZnikXdadZYVidaXcmidfdecmtkehhlffffhiiYfgWcacYgiljjjmikbhfnkcgdjgeeYccejaclgdfkhlcfZcchhegZaiqhninehnegdeigehdecgdcbZglicYcdggjeofefcVixrcffmjhdhfhjihggbVbifdgcbdghniaaceahjekgbbaidkifhfdYgqddmpphlgaefldZdgmicdrZbkhbahbefikkijgbdhkqhbZeWWdgYfgjlhgibgYijefcglgglhkddilcdkicfcjcYcddZfdYpjdhZgkiijoxZedlggdiignqlfbndgbaakfXXWabldZeohdlaeeijhfgfdfgnkdfcnkebhcZdbehoppgjdddaVhiehgkhjXmngcWcdfgiZWiinefbsdbhmaaUhkhbeehbjccejhopgldZlkpiebmlaZaXigjiZbaiiemuhYeiYYZghaZYdpqndkebkhkkfhjhblfcbihpccffZZbceebXjojmmmfgdXXefihhicbplnghnklmjcZYWTWZmegggbhfmkckdYonpigcddYkekcfbcedeebegkgabddinkjjffjjZccfmoeleihfahiYifhcddQgifopodolpffccaZigfXdZiehfcYihbflikfXXbgkqjhkjfgniZlhngXbYegeoeafkjflaaeYffgikjjZdccUXcldXeonhiehfpgjjghqcfjcYUjjdccgbgjnkkjmlgdcfcecffhmiYgghgcYfjZbVUgfmbeklrlkjkigeieahecfcZgkcdhlllghldjieijeecdaXhZXYncdcidlinkhbbeeigkgejikjegihnZfgkfhdZZkbgaikjfgifXgggeQachhdhghgjkjpolgfggcZffgYVdjljkahiWimgakhaagdmeilijdkhdfkgZYifaeghdeffggfZZigdjrukicilfZZeYigdfbifioiiXhjkfeUdcghidjkgbdZffppiggelhXcVdjhaeljaafhjfSblnbcbmjaallhZWogacppmfjniefhdUjkdgjlgddgVkffcbfefdjficiklfginijidYXhXbYdekjdjfjeWfeqlbcmhdefdZWhsmnliZdfedeeeceghhljmnfgghdpbchZcgdiZZmjjZcicckdgfafhYidcgjmcfkfdfkmgbligicbbdijcitgmbbeTZekiiWbcooekbgbkjnmhddfijhjcfYeelfcWfZjbaTbgnmiddprncfibgigckehjdhmkggfcedbZWdbifgdjadgbcdqqntupkbYbcicjefafXciYcadciqmiQWdbiihgikegYfllhhifrkhdheiiZdikhYYlkmVcggkmlcXbWcmejkffaeidfejogbhfhljkbdehigZgkgifddacWenmjgaenmbYgaYjaejncfmaadddigeYfjdlffefeqihpufiggedfdhmfcdsmWYXdgfcbnhfhfkfahhgbbggkfYehjiahViilbfYihbnhbWkhfhgkcfjbflbiihiillcdXfiefkkjmaclfXcdgbhchiXYfgecfmlmrfachaceibsmmhiqgeYaaehfbZedZgjiffdjdljWnfhebijjigdcbggidjjXdpjgdhhiicdidgjficZXgdhahegfebeanpugfZfhkjZcphjfjigieggigWaaYfWcgikhcjhhffjifkjhgjaZiecklhjhfikgfYZYhlcglkbbgkjjhkfifiWechZfbecWjieiadjfhmihgijfoieekjkXfgabjoeYdgebVeeXafenigmlmiekadbdehWdkogmefhbdZihsjhpllbhbfajjZYeadcYchkeidgagfalqfhkjheedmcdgcielbqoqmecZVecfmchbcbfbgdghiplheledgjibaVSUdcVadmkjpldYjqpqtpgdcaZaipkaYbdfeljlikedkZXijdakgmkjhdbbmnphfXbdWbXdkgfhgmfigZejoccfTZfokbgjXdnjgbZlgjlkhgXXbirglkedYhohfjkdhfmlcfkjcWZbbVehciiehehZdYgnrjbikdjimfbddhggkebicabbkYfhcgjmjdnjliiiailliWZdbgjgZWYhnikmmeXbdYgkhYhXcjfkjlpnihdfacXljiibecejfbfghhmjjfdggYggjjhcfegjjdZgZhjddddfZgdchhYaZiffhlggjflkimiohhhdchXcmegektebgmYbdemhjafcljddbaceZWegfieemdmkklYXZegjjcbbjlkghhqmedWhbeYegfcoliffihjfhgigeefgagejjechfffkieccgYbbgbddeahrgjhjfilmbekmfblffheafeehhlmejfndeZjigcaYYcdlcbbhfbgiYhhghslgdalrnkoefhfhaTaaiiZebRijedmktldekkfbfkpcaeecgaThdbhibjfhgklhfneZcabhsnfcYdlhaljfkhfbXZihhYphgoiWfYcflpqhehhddYaVdcmjhhigZacilnkjdmecffcfijZdZbjiXakiejjiqvkghcfccYkbYdZcbbhnieggebdcedkihpskgbgdimfiiTXdcdgcjhgbimhiedifficiZailhghefkjcbWhllenajldfacbhmreifhZUWibihjflighfadhgddafdghihicjhhhngnulgYfgbbVfYcgjhehdbXdbgkfhhfmhkfnhddehclgjcecieceeefilojenilihbUadcefegfbffcXcglgjmflqikfhRXklmxkdOUVjfaehgmihjdfekkYhigZlegchdejgflainhldfhbVhWfeelhhkjbgpfhcXhhhhkmkjXYddafhoilfhZXiYfffgjkghddZaZclmfZXYmhZfdnmmlidfnojigacegfljcYZbgofXZdieljnlmmfUhbahoohjcckbWYgbchYndmbdhknjYddbiamjfhkfihdgdgeilmkccYibjkfddddYkjjojgbbggcdYXghffkjjdhchekiZdgjliocdYZXZhfljjnfejhdscegfhgggegaeaiogYWacfjfcqjhdgfigZXhjhjnekpphigbbcceZVYhgieceghppmbdeafeegcgdegpdkhbcbhjjlcXfebjqpiqrfihbhiaRWaZbkjdYabdkcgmlkeeokkhYegemmcebeTdgcmliigeeidbkfidfddfhgmkghilfZXUgYihjZbidljhlhhibfklnjclZfUZlZkebccgiihemmhhinjhiicYggfdacZZbgchjheijqklnpcgfdUXagbfZdgccfnjcglpmkjkjgkfYbbgcUWbaaheklmiflgjjfWdielgjgieeicjdZkccgflhffeifjifiZedcXeojhajjfkidhgnhjghddZdgjileecYbWchjammeZfhfehjpfehgTdnoqllcabTedhijmgdbgdYcgjdaegdhdhmciidejlgfokhikfaWfbXVioilkahhffZhjedYhghgilojeaiiqmcheicfecYfbVWbeehiiikpmlkngeidjgecXZWXYeehbdegfiejpokikgcdddmtlbffZffaaidedbciphffgijgXjjfgggXiejiceikiehmkYeekeZbkljqfaWcaXfelmdfdYpkgmgglgiibhggkcaZbgiggkaZlddfmmfZifaibahbnpadjklblfeekffaYfaYgefihkkdedaebefblnpppkqiffcdnZVbkfjedfWWZdgfjchlicjokfhmfXemhgcYgmidaleeilhbcbechcejmagggdYemadilafXkgjhanlgXkcfknhgjjWedhbdffabgtkmkoaUcdddjrbbgadcbecgofigdijgjbegXmgejljieXVajbibelfUibnprkqimhjlgZfhhkeWVZVbeYfcVfeilbfppijklefYhefmibdgajkkcZigefglgialjhedhYmhoeXYdhiqiacZefdehckdhYfildeclggfckhflggZajjhbffgfdjffSbedkgkkjeimlpfZfifhcdfflkfbkaafaenoikkqiehiWTXXahXacYihYgfkhlpeffdgjhifghgiknjeadftkZdacbelmiokkRWbcbbahbagpoehinbgdVjljcjjgfejmefbfckdigdanegabUfihlpdlgegiebddgdipgaZajmnfcZbfebioigkicbjlgffimjVejeYWfejnddZYiadkjeiiqdfhheiggnsmjfYQfjidjplbWabhWgemhjfZleZcfdcdhljildgmgmjmdbkfdfReniXRbojilfkaddeUbiemhhXhhmefmigZlndknmhgXbbXgeidWcchflenklbhgldeWeijfhgaccghilZjollmgehlfcdkgdebagidfjZVeZfigdjndgllecWdagigglfolcZhhXdmjbhkhficggheiigjembejgjfjlcXdZfjafeidhgYakjklicidYekidWfmgibbghdcfhghmgnkkbbeckmnibUfdXbmifjigjbUXkmZhZeicgXjqmccbdgeitsnehYZonocbbgfebZgaaikhlbhhnicgZbajkcfeahgnjgeaaaeiicfisndbaidkcfihmijkofYedeggbehhXdXeZakjjiflgejegidlmikfVcgjhfhechikhjfUYfjbgaenkjljgebZcdnifohfghdbidaddddeehWhmdfabjlgpkUZlimhipifjnrmnVZbiZdSblcdafYfgZimjlgfnigZUWmfkkcddfhgmimnYfagghifeikljmcghcfaRRfkkfiYZgichmirjiehibWfmhbdecjfbbZklmgihjllgiagdXcgkfcZgmghkdhjhgcfehjgmcccfbihibcgikifRceehehiiadffhgdqfbhkllaYjlfhcbeilXfjgkihXgbXZghggksnggjddfolbajaVVcgZbfhdihnijnjhehYZeippleXiUjcijljggXXYehZiifeljhdfncchkmghfZlniichghbYbgcgdblgebceademghhiiqelgXifmedhkUUiniiZgfgjflefagXZhcVfnmfehligjinhmimgcafYfhcXjebbijlejeefafhdikioieaigfmefeaafggeZajaXgiehaghddhlisgggfhdjfgfekadTbZfglklnglkpeigfcphgZQclgZZignelZcVhkkhfbddidVfgmjkaihpkgYfmgbfbhfjjgjcgefldfghejnecglhiaXXltggikggYcZadXYdiileighgffhlgkehjljhhZgeWadhefZXchdfcnhgppklimdadcYcfjqhWdYZZYekmimondhZhZfikneUaidgilZejepoiniideZXcabiqljelXVYjhhghciVZfXjokeklkljlicdYWfigkehYiaiitmlbZbdbegWhpnefjddYmagdgfekddfcVZljkhncikkehggjcdbfmnehkdjiiZgldebbWdcikhcgjmpcceiabhcVgimjcZfYfqmgZlbgXhZrtjmggXanhiYTZeigjfdhihejliUlgfbZheggdXccqlikjkmmqffTZZiVccZdgsjfgdlhfmclgijikcXaYXXfmdghjdddhebjiqmemibmhbfifgkjYbealienXechaicZmeplnimfldZZZZcaefikiicZhfbfenfbbilpogQcglhplojafkXZmkbQagmpfdckeicchkikbcihVbZdffdisnjfhgfbiiffrgijdlXchnfWebTXdffXbenjjkihhgajgiYhcYmgigijichifpeceheedefbmggYilmjkjfohZbYflbWkfdkkeegceighidgagfcdXbgkjejjlYjffgbjmhfbcfllficfefdaadcfZdkidgmllqjhjfhelbgdhledgjadgcWhmhfdYVbijbjeofbhZceiohjmedjfglcXliklkiadVWmcigdfkbgecekjnjmmecdfmihldhcgcUYchXUehaiplhlafkmkekghYdfebinlgZgfbfZnTenlindZcbdfYbirqimgYhghhahmkfZdcedceaWaZflkgeijkdiqpnighdagXdkdecnikefabZYgjhhijZhdfmdohdmehahaZocgmjhUalZalnfgehgjhhljaZbldeSXelmepimgnlhiafbckgbXcXXdcfgkfcjnklmlkjebgnmgZfZiZgjhqYhgdfddYYkohhYibdmfjdggkkifijWfYgfdgcdfZekggijfhpgebflrgcbejcfgcfikhhZXefjkeiacdiZiaceuhjnjceggjaThWdfecbdackgkjmknmfenfnefplfVeelddgjWgideZWichehemagodYiifljlhfhemiebWgdeglidbebkebdgjbhkhhjVhifhkkgfcldheZcekodYfedeejghmiikchdXYiehklYdfjlZaWgnfibUkfoqghcihghgnfbgZefhlebdkhebfghkZgnkdjXglfdhahckVbejlichdgZcinicehpiZaaXkhlnfghfcefgXejdeomXfmjiffcimongccfegZfbcfjfgkibjVZkodgYogbbfZjjclfbZiheeckibgjjiihWbidijpkbiXaggfhehjliblichhhcbagcbbgdhgdcdbhulfpngceZWhejUbmnnnhohkdXdfhfeVhpiZbkiXecggfkgbdnifSYbhaglefnkedqhWabaflopkebXgchhlghkrkigYgkciZdbfZoglogfjgfZbbgiccdfebhjgdehebWdkuljhdSdeekrgijofdcdkZWmgbjifgjgigYhmiijdgcdhVUVXgZdjjniffidhjibippgcedgmmlkcZehghebgfcdehebbhhmahgjZgbhqkbgbdeedokbkdhighccefljhdcejhceegeYhpijcjjhcccelpglVjkdaUgkdjaihbgeVgeYfjdgnlhdljjigfafikihjdYbabebccbfiljngjmqhhijjgeYegjYlYYZdlfnfngcYhfcZefjngecdjqjjaWbdZYbjojlgjkijgcbejifcfgehhjdifgcfkabZbgigWgchomnmcdacecfdjflslcbfcigddmWbfmibefhdifhnecbolkmnjacdfeeWaZfdfijlfehjdeocVXfkhdXdllkglnebibiheldefdjbZdZglbgccehghjfeehmowuhfaXXdfaclafZZhmhlahWdihlgjjiYjemeegheYfdlkcjnngXeifbeakfZfeiheiechmalfmiagadegjjceVdfnkjfacjjnkkhhjdideYaelghhZccdjedXboniaaadbpphhjhcpllhnfmifZegcjdggZeceYeYXecgfggkmejggahomoihYgeihcjYYbdkadbffikmjiimdgshYenagibZXYedihmghkikimabdjgmfcjfYaocbhcndhebakiaibfWkkfdosomfhkWcWTYifgiebfibagljhjfclmhgjgejebbYcdhghgeefdokgimeecgdjbjmhegrgWYhgeZdgYhniYplkjdWakkhYfbdlmfXeejkpjekdbinjeZTecYcZgYjgghafechemhihjkchglflmgdjjgmlkhdbRaeWdfaWZmngkqZkbhjgmiheUceYebhonnjplVYfkjlnYccYWghjejceVghhhikkmidciXiiafhmjiifedihZdghcabdgeaejfmpfigcedWghfgjhehYieiedhinjalhmngeZfYllkhgeTZbibfiicdabfdefjjklgkimjmjbcfghedXgklZabdammifYiiileVmgjbholbbWcjkfggZZfoihbhZfigdbkljlffcbcjdcekcrifgdcamcijgjllaikiedUgYjindbeVWfpejegjggffhjfddbflndcdglgbjmifacXbdgkdegleikhnehfgiqcmcWefjfiZbZXcphkgmdmjcaijcYaZeqlehebgWZrfgjdcnieZjmhlheahddimaeijXfcjoikejlhhbcTdfUYblhihaemlbZgpdfokkcZSehpbjghZegmjidlplaYYleihfcgmiZchkagkidecec0hcdfYVcZgekghkmgiglfblWjgfjbhkZVbeedgijklgngcghegZafjlhgnaXcZghcmihmebrbffbZblcddmkhdjlnhdaeZiqiafdefkkbanedbafmcmjngcfeffiWcjgfjggjmmhakfaaYcZfljeccfageeenlujkYdhaZbbnjbhjkkegjkgkigdbZUaWbfnidaalcglpqogkijdndfacidefYRbcefffdjjkkhcfjjlknhhliahiZafaebffebgadYcmhspkhdafdZXekwhobehbfffdeieficeajnjfZjgacchhildddejdXiajamjgljihjjqokfcYeYfbmbaZfghbfcjefkebedfikimflegchgjbdfembfaceeXdprnmkgcgecXbfbjffYYibgkggefmgnskedeibWiljhdefeddacZgjhpjhbeafclfXetnlkkddYbdjhflhpgXYbiibcbdlhggeaoedbfkhmifewidsjibVVabfhdZYcefhmielhfhilefdljaakniiiejgXUWaeejekmebksigaeimphhccjfcgYfdjdYZdkXgpfbelkkkljidjohhiadYSZidgWcgZjgbfbWghdgbkriqkollgiffefcidXdcVjZgnjiceXrqkmhceejfYihfhahhcWjgdbgcjckTbhehfimeigknXhhhejZilgmehglpljjrkszsgjnkkdjhmgaijooehcsoiqlglkhnhtpjmeedirojornhomlcflnmklnlnmiiqunfXhmlhqoplhejiqsmfkYbheafglgaaeXecccgdiohejeWUUXUhgkcfefdchadghfdhjXTaZggficVaXdSfgUYXWRPbdXWbYaXYTeaRRTgieUUOaafifagmghaokejbXbkjaWdhgaajdnjUVkimgiYZhgdfefZXddUfcbifjfckmhmkejgkhhddfeXdWgaYdcgWdibZWkjekZbgbdjZdhhWhgcecYbXdYiedWRcigdelRSeQURZZacZfVfaaYbXhdZbaXRbbZjddXVZWTVPejkYZVfgWlhikfbZacmhkjjjkjUVcdfbXegkjbekhhghefacoimbamljfelgmolojkjmlipmmhkhjlkvkkfpgtohmjglrijfmicjdnjijngkoilmnilmpnnrxqeUVWfhXehgZbfbaZjeWfkfZYcXbdglTahgejdeYYcdZaWcffgfideYWaghYcTbelbZXZgedeZgXachljkeflmmhhppgigilmndabeadfkqjhffjkdimqugebbgefiikpmrtsioorhfenfaZgggkeekgjihmkldmomrqlnoehcihafgppgqehfdhfihgWbZmhYVfpwjrrrpmkskfZmgmmqtpfjimgkfpoknjrojzqmjmkksphdrqvognlndddYmlcmfemokskehfkvplgcXeehnhhmrshZYhlkolpkkrniiloohkifkommiiqqolsrloilmjimjlidknfeejrhfjklpggbepdgosmjdmjiiigcecleaYbegVehgdeXUhdXXcbddUZdfafXcfbaiklrhabeejjaYXiYagebTWdZYkiphdgZejprmomjifjefVjkkXdkbinjbbYjkggrjmfihdagogkkrhgiZeffhhdbVckdfeegYdgaYYeonkjbWbrlfTZgffXtlflfhgqvsumcYcbkffheigaikgnacbZYmqnptrqfhehkornllklqmikgiqgmljUceinWhccfXedgnfdlfdgjZhfdZeggqdZchfecgkjheacoinbhfgddlgfffbYckhfiejihhejWWfXdfWZkkkfhddlpmebbdilkglrbigighddfmgheaeeVadbdbkieehSnpihfgdnhllgebdcdfkghZgmYefUohsloikjcaWWeZjbhYbdcbjgndljmbZigaekjhflaegnjjmjmmhbfZWhYckebidfeYkgjgkifedSfjcgfhefYafhjjmnnnjkheZpgdefgfagrhhjUZdgaaacahYYZiieddfdotnqdheqkmpdjkknkddXWOXYQVahkhemkjjhciakpnpfcggkbgdeccgkdfbecldcjieajbkqoggZbbbgjkargjijkaagbddbgcdlhqdlffgciejgUceifiZffliYnngibbdgUagjhffdadjdkofbhimhmeghgYdihioikddXidZfaZceicdfccmjiolngkkahnfekadZbejbdYdkeeioolVahfegnojcaimfeXYegnjbdceifjckekkdbddccaZcjgnkehaYWjmhkdflpohbYVfimgppdgjecXbcbeYlbdcnmnfmbWfkdjofbfeclefghfZcbcggnkmjccbhZdgjejldljfekkhmcefgdieikadXmYeZRXnjlflfkfbcnifkiYkpjkbeVgdfdZlliidagckdbailklicacakehfbgcjfcmkmiifcmecjkcYadjjYgegdifjekYgamZchbeljfgofqhfhgckbddddkedeeZbdiqgikmlkgldcWZgddcffcWdigXmpjihihlgjcgidhegigiYcbWadfmhbYcbeielfhijqhleiljebmkdeefgbkhfabbdcffehjthkiiXTamlggiahbcfcokfilejiabhbejiVifjhbdXclgmefjinfodddcbdhYUfgdlnpeeqmjkfUbdknofTdichifghbbYbigaeglmiTamcfcdlikkdhcgigdZffjnenfkgjcgpceddhhieeqcYefZcdiilheekicffgjedfgieeZgeiiYifgahfhigaagebedfognmfnjidigeadimwmcZijifaTZbibhcZYZflllnjmkbfcaeZfgYgggZcdhijdoqkkTifjigfgValiniahiZbcejYkkgmbbeddqlhgefcbgjbebbSbgipprsildjcTgcfijgmaUfbehffcecZjoofihdedklgbjjflkifneZbidedagabfXeigYhcjfgnflljkieagchdklmeecafgWkegfiedXhdiedbflnjfrrljadindYcdbefbjhabWfheiddicXiaajnfeimemlnnqphmhTbbdeZaXdbedafjfhumkflklfiedeehZfhbjedfdiecmliiefcfacjaYcdekjhVheklokhhnibhcZaedbmkdZcdaadminpmnnniVWhWfbagmmkcdkgkcdliZaWgdXieWajoZdkmigjoeggfhmffgleVdjdhmpaaielfdhgbhocaYcghfeckYeegffhhjjjnkdaicamhmiliddebTcinfhfjgeTacfiiZnmirleheYhhjgkfhgZbYfkjlkWbbTYdceeqigiglmdjlndglhcgXXcbijgkbhdidfjdgmefnichhhggZcffcgheljdikkhUeghdbhgndefbjihkkddmmbPgohhYhWYdceqihjgYehbYdfjombkhgpdhkcccddmgbdhbfeoijmcYYgfjhfkmfefibdfZcfqijhijbcckagffhiaigfZbjhgdfafkbkjgZcffXlpnmllfkbildllXcZXWZbjeaWYgilpjgfhedhkjjhidXhhlrlkcdhZWjgiZdjfhdfnZUfonjcfdXZZYcdehkomdlihjehbgmhchjgdghflkmdafejceeckeeeehjYgibhaiiifkjlechbYhehcacjmfbigdbdmnhceiglogffZbYaXXgkmljqheghhhlfdhgbihfhhceXXlbdntmgfjdZTaYlgmighcVdhmkeqecleXZcYekmhpkebcdYXdijgglmighqhhfcfdgcgflhdcbcagbffjhhbgYecjbgnunlkbefebZbdjcgfjccifkikjkucTZfgcdcjiqojhhedciZdggcaknlbTZmkllXSfqgbeWXkljahdbiocjnegccfZcjjkmeepldggiaXeihbhkjfjgfidibcciZadgejknijjgdhYbukgeejjlkgcYRZWTecXekoljdhjlohgdfobaihjjighekjWUekdkdefefjcheebbcgocdcktqkYfhffenZbegfdklbadoeVaihkkmbdfhfgjbfkfhidhdbeokhddbcZdggifikgjhtljkZicciXbcbaYigdhaeijhnqjdehbZiYeijfogdhdZhafqYhldedbgcielgdgfjgecZcjlikjlglgbedaZbfkaaaeilnjgejfbhdZhlmjdahinfhcgiloiWggddjeXcfYchkmfhgqifkkdaZkkhfYdpefegYefibcfhjifYadkcieZegmfcegcikesokmedbdYXZdeihkfhlfhjlgebmmjgkgXVkhgkbefbdbegeeYdlfgmgZcmkcifgmeYelgdfgjhjcmjsmZigcabefeThiehbdihiilpaajbhifghohddhgbebfechfgXYVbhkklhaZjngipgdcegchioZkihehbYboqullcYeidfZWVkdhcccjkhciimmafeffcleaogbWfdkidicaeflnmfepibWXdggpmeSZdejffnhggflsnbdlgkZbXeccTebhhVZjtkhfpghhfjggnkhdbcecfjggddcnfYZhhfiadnpikhlXefgYabcidgjgdhefjericXdfgfjkaedjcmjjggjneellhaWcZhgcWfijZedhccaqjihWnikliddkijikgVcaklhmmhdcghaifeUYYjjeenkliZflWjhhidaigjfeZeagjiXifjijjljgaXZhedmhYapccaegjllqhhmbaYfiZfjnbgeemefccljgffccZjljbbgZZdjkTUbdhikiqnmrmkjdfdjiYcdgdgZlmekfkaeYgimhfWadXcihieegoqeZdabkglflljfZejgghihfffeXlcdiaagheYZXdjoojfhgkgidhbinlgmekjkgagbcegbYacffaVkjjjkegkeZimlfkYfheWXgeaZcgkmlkojlmiafirdllhddXadchjhkdifgYfaligbcfgmgdcdgcYZZcjSehnlgnojolfecelYcenjfbbadnmoifhYbehadeZfojbQcZihjjioVkkkgcafgeighhofoghabThZijpbecdfgomfdcecooiZfhhjfefZddegdYUbhkqdniemphihibgfaZeiccakhZkabflpgejYikYabenifhhddfiYadligjmqhflfiijhedbcfZWgifflfiiVbfefgeajfifcmfhlljdnjfeeeaYiijcZdjhicejeekleegUZflcdgneqifeaffZkddfigreeagZfhhfingdaoqlhcgdobcZhgVajlhgggagneeefghZdomjcchXgdakicadZfpjfaadfrkfhlkalledchjijefkfWcbfbfemifjehTcaYkjbaqnolabgihjqgfXajmZcXbdZhfkqbifibkbZfiornjejUScgkZkdeggbfXciliYnmmaemfnekklihdVbekbYccWeolilnpogZaehehaYlXbaYfglgiYhllfidadipgfgaZmppgilfiejifdUaagfXgdehbeblgaokinbceaikcedkgikjliaidgbaeeaijbmifihgmnaffagkWgdekggfimdgaeaeadipbmjXeibZbmllZjlfloiiigcdhbbfleacdhdZShlmdlfiXklfckokkeYdecirjkkfhaadljgXfbheedVgaXhjfgjiemhalipmfdXbgimeadiiigWagcfpfghabnjehgaZhggiegdbiglihfjfejhjijggaacmfebdfkihccmeVdgcnidkhdhfjXhjmhcffkjkfcjlfogfedeekfahZZcfbclfaaedhfedehkjZdgnolidalopbedckhhYebeeedcchrgkccbjpddZmVdeflfkdfshbhkgdYfjWfedgbdlhYcqtcogobhrlbkYYgjiWfeiaWbahaYimneionahaVhlfddndeWaZklmmogmeYgggdlighfcdZZUecYcfntpnYkkkgfngmjWeibhhiagkccgciYhdbheffZegiodljgcfXkijnhehqabZiXRhjieqcjnhbgdehleifhdaijfeiilTcgkhkmgejecZUhZikWfambdciflfjgfhimnmjclfShdmhfliZgYXhZcibagehjdedjncfgklcfgfjngfedjneddjcdhgZWfggqjhekddlidkgYaiifgdbZijefbpimfkbheecigYhYWkijtlgYgkliYeZlhijbcaenedUZclhimkhfelfejmiZXgZpheXgghejiflddgZgdZfeiffflnnigYhhagegeiffXbemaeWklblnbkekkadhZjjfhknffbeedgejfegYilljjebcacbTXiljijgtkkilcbafeedfhdigfebVfgorhkYXXedZarqjeaceipicihjhihlffkehhfVablbhhjhecjddeWiihfdljZdeceWfpmhhXRkmlpffjthheqcjhZYgZdZabgcdfkYZdiqekmljhnbhrbehaaaeifXUejnjmijheleegYYinhckncnfaiRbfhdgknjhabeaifYahnolhbcagiiejmkeYdleZWdgeamfghifeeltkndjWZYXdlgekjfZhflfgfejdmmeeldmegdebhhieglihdbmjggdccilZSPdjkeeihhmkmlfgdccbeccibfhnihfjbhbkmadgffeigbfjddjZheajmehjcghmckcfliohfingYejbYWYaeZbdioijheZcYbjbdnkgeghmmgjjcdgmlihqncjkdZdehdbZOTcjjjlqqibgjbbimkfdbhkaYXckfheifgdihbZgdgkjjgeokdYihajejacajeajdhfbdftkmhfggnehfjcXdfdjimjhbgWafgijjdakVbciloacpihjiYeahjihkbfjdffechabZjihgegieeblhYejlhmYZjkeanjkgabaihifoffiVcfmqXZdgdacjjfaaallcdkdhYkhfikjhjhjlcZhbbehdallfafelliodcejhpbccbWdZekqokhdcghofgfbccgkdZfibfjkhgdcaifhehgekjfbekkkZcYYhkmgdflfhqliekccbceVeikfWoekaQckimkdfiejdbgokkhlbcVZdiilkhWYgiihijflieipeZfeeVfcfcdWgcdgjliemlgjeaenggbhpogXeYfljichhefnoelYWVZlfYiegedfeaheeVnkloecacnjullnaZiWabeWffegehdfifekhioXahoiigngigggmfVYdfgbkhhffdifgZelekhfpffglYfgffhgXdedidaZddlfYgkgjjfmpkjgolhaagiecegjiWclffbbhgknfVgdYYbddZaigcmljkoshknnieZkmecdaeaYdbjjioaYgjbfaWVmdglohinkebabdhZdhjsbegoljZiggecgfZdacZisnbbdcjblnjtghZclkjblcUagllcYYYcehibecjfihkihjiglklefighbWZdicejgifmuqfbieXaebVknaUbbflljWghnkkdbeqdigdgZefghdimjecglffdldeddjciafcdmhfekmlgYhbdkjYkcfbYcdghqjfmhkogcfhccZYhfjdgngedWZcgpcnlekckYckZalggleTifgnfkghYYdoqcbgfdkeWenellnmjgZacaccaimiohddbdZjgfhfkehkZcdconlgdcdbXikhgndghhhlccffdfilfffhjhYaacchlddZfikiiceXkfmhffdllhhgaYYefehggjkjcikaigcgmfmfimklWWZdcfhfZlnfffffijffjkfYbgfjcdkdicXffajYakeikkctmkdgafoqlfjhaaZgceibehVdeYdicZdmolhngbihegfccicddgadhhjsjiZjbigmpckjhdgjdgffhhefYjhedTdeeenfhZdlhdfigcWcegjhokmgbdaaefdhZflejmtpZXchcgieiktkghcaheccZdihhimhkfcdmkkeaYjdZWXWfggqrmfabbbgbijnhmgVakgnhmlgWfgYfdZVemlcipbcmkfkhkidWcjehjhdddldifbciidacXggnenjhdmbkgeaddmncXjkhbZbcffapkfiiZeeagcgjfblglnjggWgbjqlYddcYmgjcfignkhlXkdgahiciieahgbhilkcXbkhcUbackcchfcmrjgYimloniimdgXedffVaYhhbWdgkyikfZficYhmgojgkWheieehiicgbjmabbelnnljlacdaWXXTYljjjhdigdchfmshhfiedoagYfiaXjmmoggcUZedfjnfijlkddfphegghbejXiZaejiggkcZecegfgpeliYXgcbikhaedbceebfnlcfihkfmpkdkidlkYZnidmimhfgPYeeZafhhjhhkcglaemgahjjjoeXaUeigdcgjjaZXamihmmgegidaeZkmleekpikcYgbabgdcijffgnhfaaejbfgbigjeiidifoijffeklhkhZefbdZoildcdblndbmfejngdehadYcRghegcdYikkffkhieehdhhfebjoqniefihbheZXWZfhkbkbhcZjjcgkifelfhjfbhgbYfklZeadommmlhaYskekZehbgbeaikodggefeadgdekjickfYVafhbcicqhkrgjofihaWdpmZbafgjclgfgcfZifhicmlXadbgegfgjloiehnpmdYacabdjdgcZcebhfedVZgkcoloiemhleloeibkYflbhgXgelfddgYcdijafZZsrfhjohkdibakekecdcWcffkahjmejjefYcnmfdbgghZghbZbgrkkgpikieYagbdiihicdbglZZeseeijaaddcgXdohjfgjioelbpkYfbcjbfcfnlgjiddccXhjjefcjdZkiaaaknlibaiihgljlbWZioaYbhcelceglddniddfkitjmbYeeaofankhikWWYgmgcdfjoagilgpeeilkYZWfhheXfnadebknfbefifaZdkfjicccjofhjeceknoneYbaaqfddfkfjmcbcYglegjedYYhiohieeohmdcffjehecZfWdqgaZelYbfqeenlegiWaljclpvkdidcebkgYZkhXYZccahoqWjjejgddnobXjjincdbeiiiYmhdYhhdZhdghiqnmihchVckaZlhYecamnjdhjZileefcebiichUdZcekkeYpopjijjfajnkdZZohdddVemfifbfjaiiggjklYeXgjgeWZagfigfnjfehejehjihjcahnkcZaffbmdYgghphicnhiefedffhggfZeddmYbieeamfjscifleZegghnqhglfaZkiaaaffgdXlkYUbffhglckifhhodebimhfffafsiadiflfsoddUQdhgkaeigedaajjfhhYinefdeqjhZWadmgZlfignhlZhbkldhgWZjggdhilndblefdfSbggcalgenjoqlfdbdfegdhkbeedbdefcnmioniXYZaaegjjkkdismfjibjgiacZXYbbXYfenmhggckgldfflmjkfZfWbikjijidhdmbYcfpkfWchfhgggecgidonnihkdcekibeaZhgadWhYdkcbkhhbjlhjZWoplhkhhjdabjgdcTdkigkibhjgedkieilekabgjVaWnfijhljblelmrcdceWYijaWadihefZijlmrYgdffdeidjjeoghejiggeXVbfgbkkeZejiiXdfgjgohkoWgcgkhkhffkWekYpYdgkiieZcRfgbhfjffidZinjdfhejlqolhdbaYecdebbeddhnpwjlmbZcbbdbYdfcekceciljifoYdXfffejnhaXdbgtpplfgfefejhjbWYhbbdgcilkmgidlblcbbgidffgdnjidgfagcgcZdfjkcgdijabfiijmhooYilYhXfcihjegcfehdYehlnleedfdcTjkbakaghhfankpmhrhiiejecaaZddfdegZcdbgaiogZWiffhmmheejkhejplhcebedikhggXejlkjcZibXYfpkhggXaedhkhgmjjkjcdnmYWVhieknbVjgjYdncaZfXjmZjXZkijhnirqjhhafigfbodkiaZYbigfaVemjniglhWaleaggchlZaaYZhgnsuonYaehlppllbZbVcbaineYceghakjgncYfigjaghdifkdfkgceeehnedaadbgjigfXddkmkgdgeYmqhiffjokaigmhcahYhafkjZYbhfideoaecifoaYhfkgcefhjqcmhdldbWbjkZkhmididelchhifZbgYaYfrjllmccifeamfbgdhbajjjjecYjmjkibVeZXcfcemmrnnadegkbpjlabfaaffdgggfdicoklYdhebbdlpnhjbeaffjhWZeiflfilcgfbXYejioeQaaplgikgijfkiljbfegfeffgkmmhhicfeWZaefheccZhYmeYikmnebkeddddmmooiehehalfbfdeacalhbchgYVgkolmdcYglibffgfkigYdjglhcfgdkiehmplnrhafaXlXYZkabeZdhjhqeoehfeeUggenfccdgfRYdgeacljogikbmqtniifZblmYdbbacohhgddWchikjjdXojgReeflgeclgheYehgeZcelmncYmjgejfWZnfhjfjlkpiifaZYmmkbdehfcWahlghfiiiZifhgYhkpgUbhmidZRYfeikedijjjalgjogZiinaaaihdejfniphXbhZYenqhaZaZZliYciiktmkjbgkhmqfdWTfWcliXfhkjZcflfklhcbcYlhdomjefbbeeehcbeaihcbcdnhknllhcdhijiillYafhgdZefaXcjghhecehcdagmkknkgfbWjfiidffhhibiiffihhhbhgjhfbcihhbXaehhdkadkhkmmgkdnjjhkhhebYbeaVcZikcZgjicjigacdllnffdgbjoefbceemdYfaibfhhZglmjpdgjdgkgZYYnhcWjhhjpgheciaagZbXjmplebhkhjfkmkgebXcaefkieaXZiiQfkloolfkhhbdelbXabgbceglmmmihefqinjbXWbjkejfZUihXgkldiffgbfZlonmedfflkbfbZfbhZeZmgdlkggcnjckejWbfbccefihmVgkilmhlnfhTccfclnkibXjcgmojXWccrggbbhliibdceifmdhcadaemfgiihWkkkiihhaigeelibfYebgonYeZgacidhndhelkdgoYcgggcifZbZeimfkmjegieclefjknmZcebfkgVWedjdcibdmekqdhkjkaWcdabfioodfheWjfihjednkhekghlehdgdgiiYgaciWZWiZfblfjimohdmpnecYfehpfdfYYdefjjjhfiqUbjghdigaZdihncicdjkiejZdgekdYgiabghmkfqhceYcbeltopeWcegbcoigegXaebhZccZnjhiiegZYcjlafekdhlkkgokkriiedhlfecZiaiWbhdedfjgeabYgleamnekbXdboeiljlhiefkajeXfhmnjfkhYdWfgaffieolabgbiifhihfgihkddbdgkcYihfieccnkhjiffcbjaiedhnnkcTcdZidgZgiYgimpejfjZckahkimkqhijWcecbihVhiggccdedZahhhkhgkmojXfficjfdYkdZWhhfdfhoeoofgpkilkXZchZbkdYbjfXcYXhgkmllmmcgfcdliojdgehjefeljcbadXjfdbedddeknkfglgfdhdbgflecfiefhhnYgjcWgZjfgmmcchadmfohdchjjicjehlnbdkhneadhjbfaZckmidccfbZTXWbafmpllkchhfpglhfglhnhjjncciabOaiilbmgdelajjdaakjjheeZelnhgadaXgfbefghemohfmkjhonkhjcjYZWkaWacbYagdclcabjiejfoffqnngflkgdicfdibfabXcZdcllnljilecghYggipgabggihjaWccajnrZYahhkpgdclghaZcfidfcoifmiWagifilghjcgjebeUbfhdmigejnjdZYcmkjhgkeiZXgfjnifbkidbdYamkmcfYiiibcadekphhjgimgaVccnfWbodifhdiefehlfllfkglaWlgdYjghacZVXgddnppmplkfkijjhYclRUWUQZfmqmchkijgrldemcaabnlcXcfbhhfikkdgklilehbcbagnjhcdgZeZfhmgihlgeagggddhccgbnbhbdludhpjjcehcdjkUdYcbeblecgejhmdhjpqfdXdeiaZfgqohYbaeeglffgflhkbbaZkclncVXicjjiolhdbdsaZkekjrfccbedekklhkehhdWVVdgnlfejeageeeicdhjhijdbcfWghojlhlicdegjjYZilengkiebiedfeedkmmfaagikfhlaZZedaccifhlkhokhdbehliiYfdVemidWckegfacgkhgmjkihhjdcYgggccgjebfadXkfblmplefdnhlphdbaeabfedfkbghfeYbilZggpkcgjmjhfihbcYfmibdkgjieagXXbXffdqqkigfljlfdaggnWcecfXeonUYiiajbeZcekqhmgllmjkdfdcddjmeebdbccbafinpjkekjligYbeaYWWiegkjhehejdqgngeedcbdjmcdeacnfjmjbeecijXceedajdbbTielkjpodeaikhfhidaiiblojcZeeajmekjYicdabjlghhdfaemjcilgijhjknhdYfdefVePbZcgegggpqmjlmirjgabYVcYcngagkhdehgqeZkjhadghhghcgdbgekgfkddjogXYaXffmlkhhhfiglofkchkfmfebcgcibTXZYaidhhhlbkjefelioqnkjleldeedVVVgabechkkejZeihcWkncbhZmmikihocmokhfhdbehibXaXfcdfbbgkglmkcgkihnffcbfaYVbocdjehllnkfkfodkaeZUbbegaZejceljjmqgljinenjdeZWZegcYbYnfhfhmhgicafbeppphehTbebjfbbnoejddkeicihkhgYWcWfemogeepmeZXelpkifeahikZZaadfaejgihdihicmklhbcjjYigmiddjehhbhlfebaggkbeeedecijhkkhfaVjecYgjalegieolikjogcejlbXYaglkgfglcfdkigciqkWfaekdXQedYeZhefskfhdgjefcktnhehcomWfZifhifgfcYbiqnljcdcbdcfdijhffghdgdincfljdXdhgciafhedYZdfhffdfmjimklnbmbjibacUadeihlijcbiflljifhhajgajadeefhkYSZZinifdhjohgmlhbZhihedloaafnjedacekeXagidbgmacenooddYdgZdilihffikiddgdhbgkjfdbelslfgdcgdXYdimeeikedieZidgpmifbckhjfZcjmiifgZcXolffkbibdZUeWYjgcenriqojtloieZcbaddfjdZdYbeancedcbZmhghiapjghgfhhjhiblkZdfhfldahgjkpgodckjekfhhdYYXUcZXmdaYgifllhjjgegihhcdbinmotmedeaZccZYiobZUcbjfpnhfmjdnacdmijjeamdkbddcgibbckkngXVclidccjiagilhjgidlgVijnggcaeZdghbbffimidedgpofhmimgZekZdgYflogaYYgaakXhkjglgneekgkecmWgjjXchlkiikeddcaYXfkgZbfihgmickjllnmmkbgeWbfcbgdZclncgeZcekZgekkgigiejfqfaXdieiiojbbicjlmhclhhaaYcUdXgfcdcfkoVfnldheikkjhiechnlloiaVTVaVkimhmbYagddjgjkrikkfkfagfifakefbgadjldkfigmfbXdfchbffYgmefblingkigchohgdniacccpdYgbcddfaaajdgimdlmkilidbceZniriVXljpZXYbdgpafcahfffennnnimjfagcgiUegmibdhfagdffYbficdjjbehgolgiecfbenigkiinjaXdhiadjeZfgTYYVndkknggihkkelkelmgjkddXeZcihbZafZlchiileVaZjnkcecblsnitedYeYfYhghinddfbddgjfsnhgkfgelfdZibabegaklbecdbZesjdjhaamlhlqjbYgghhTaaafkjlZdibXlhghlkkfgfYjllogbZefXfbnfgXfljhogaabickgdifjfeYfeplnecgigkcZaYWdollpfmklfbgZZdhnmlbXbVZcaZfjakdkcgkfkpmqpnbjjfZmjcYWaVTadendagaiidmbgrkikkfehjffjlgekhWZgZhkhakekkdiajmngghecbabdihfZbjfgghnjekabZYdkikkheXfedpgimldlhmjiaUaeeYaXhgjlcideecjflnYdhhhcYgoofgammegbadghbjtcgggefhgekiomZYgTeYkimflfcecdZZfegdkifcfhmpfghibfhiifbbcgoifgeYeflhkkgjjicgecfdfibafififdjWimheggfhghdZgdgjhkbcmdiofddgolheWagggdageZbhcdimkceeddhomkgchYlkifchXgmrgdebZdcniaXfghgjkhjchhgeihflbZhYaekojiehcbcgcbbmjlbericfeZmgfccmqkmghecgihbYVckoYbYcYhffgmYajijgdhmbfkpcmeafhgkmmgefiXZfenfbXbnkgghegiejcdhhbhehmkgfddWdWeicdhfhgnbfjopmkbgVcmhcmhjfffaeZbhjomkhXebZgaZYddieeegiihemlifihoijikhkiefegXfgdYVfbYeecjYZdjprnhaXdmpjjmYgcdiigaZeegajmmkfijjhefYckURYjhZhspkvqppiddYYfeVbYfbVTedegiojqcgeimieiddhnmdbbihkmdQabhjhgaegegfkgadhncglghZcfiiiakehffqpmjbabXeffebjjjikbhkemhinhWZbgdYWhiWebmmjabgfaahoookjYfaidhlgdlhgdfYZhhhimknlfdgffebdZZUdejdfmdfbjnhclirndahedfcinnlgaegZZkgghdigajbVccdgifgkZebdhmkpnffgnebhdgcZkjcfbjfeeagjpeeWilleajghkieddabZaeiiigeadZcfllfdnofkjhgfbjmlciYechikljkicWUVaYfdibnmmldhffgklfchggeaWYdkskgeidZffnklhgkbcZYeefnhflefdgkfkdmilZgeXcXgfhdjghepbZagnffbckiZfZdlihhpbeodegaahYdfjkkiffdZinglhhgdfYitgVYdakXieddggjgfjhpjidglbgjgbYidZcamknogZhhaedcieaXgehliihlfhmmlWdehbfhdchlgdYcjZTdekngcqlmlfVaofelmfZZfflhgmjehbceechbakaYdeifdjfYfmlndjocmhZmkihrgbbeWhVXfZVWhdioceejlpaknhhllelmnjfbWdffWZkfhhemchcjffZindcfgeemedjgUecXkiojdldgjefdbefmhdbldidZbdagflgjbjpsoeggcWdhdfnebhccbbhfkfdZkighhbflogjaejecXgebnbgkeaohmcagmgegjXgXeionfhecfcahkjelmcZYmnlimfciffaaceXbdfgeifYZjiinkjmhXdojnlgdghfacbgaagjbfcikgjfdlZXjpgmfbgkhnigdhoffaeZgeaWacZdgenkhhegdcgdfecjZiilqnqillmeajhfVWcXbgbmijdkngincdcfdkgZhhYfigTbbifgejjhhdhnlkdfjjkeaeaXdeihbfYjkZfjieZglkkhmdhhnjddgkYacqndbWfcejnlknoefjcaUYeaecdcecihYZbbflgaZgiimffjfjliqjigifcggikegXhpiYgnnXdYbimdUZefZgidfkhdfgsqnjfhdfombXaagfekjiajWioihdecdkdeYfYdebbnbjjemnidlgleZakgkdYWldcpdgkYfcjhkgidegedchejmifjebaagnqjlaZYjjbmhWldhjkaeWcmYdejZgqiglidbfbcaigfladjdinvojdehYYZXbhbencYkngocefbdamhgjajYihgokntlXhikfedaaWekdedhijjcffldZWadjcbacjfcjmhdeilndlimjhjkgfhcaYeeaccdimqldbbdeebgcfdjekhkidiejkafhkgdfceckkdZiflkmZceYjeebaXgfdnkYbbglenieyojejcgfdejgjebYUigsdehbfdmdbaZfnigfZVmihphddnpcbbdedfcicTijceqmpuokidefcccfbbgbidYhehdihhiacYfefimiYgicfikrsggiadiijgceZcgalZXgfjlhngeYeZegfophekejgehbenjfeecYRWYbghjihnpkjjflghYaabohYemgjmgehbabalgkZgagjicddllaglfldgddkccfgXYfilincjhpmeiieebgcedkldYZhhefjjqjcfedoifjcYecWcfdkaehfcikgbaafkfgjgdkmgcnichjffmhWcahcaherhjljjbZmobaYeeYdXfrpeecehibmkjafpgdadbgXjfkjbidolhgcdgiillcdeifZeiVegehiegmhqlcebdagYZmZcdcbeSajmqfmrkgnljadcigcgffbemjgefgVchkhmgfijibikcVehdZhjehXihcbgopjaaiflhkXZYlolemmWYcfdcelfZkcbgkkgjgadibhbnkkmeZedepfdfgdigijjeYbcgbhfjjlislfieYXadffkdigebUfldcZejcejljnekfcWmekmggkikhcachhidcilfcWcYkmhjhhdchdfgYbYcdgdajklllnpiigiebhVXeZgkehqjfYfaannjonjggZXcZejZgpikclhhkZkeicWdgdckffffcfcbZgmlheejmjfeaUekgflmYlfkhYacnZllgbggffiikdiZVbkkhfhifmfhggkcgfgfegbacigkjfgcmcqkdgjilfcXYgbSdldmehdcjmcXeinegjmelcXkfgcZgglfiihfeXipliofbcdebfglkfghWcelmedXgmeYcjdmkjhaYeebddlmfhjigadgnjihlfecgUfegidkibjcddhigfjZkieYiihjedlhaXecfebWknijcchkcmdgafimckhfdiYhhihicajbijoefjkkllhbWijdWhkcbZejifbcbWedhmdhjpiYfgddgipjcfjlbgfZbgibhfemjhfkddfljgcfdfimdbiiibcgajilpjmadgfkYTedgfmfcUXdenckiljmieheldeedcYgmdcZkdjifhgjmfeiXmlgeZZgfgcicbighjihbndZdadnhknjhgbTWafffXdqjnojgdaXmgjmZfdfjmegchcepqeaUamZeldZbjjjgeclhhiofdblnlcebdghdXWccgbjeflilXmjnadedidpoigijcYfYihdilfXgclejZfehgekWgmoolkXeXbhmZefifcfhVYVfijejlnmifigellmaebbWcgiokZdemiibduihXfXdaghVWpihWilfbkjhfdhlhfeZehdjhffbagdmmfoghghjcfnecjljkcddYefdifahkdchhXXafrrmcijWgWefbZemiigidcZlkjiheigiigdZihhejdimfYibggYcichlehlgjahliZbbcfifbgchjZaofinneihdXedmjXZajlgkiZlidlbeddekihcYcanmiZifhYeklgikjfbiopiibdfddbZbimgbYYWZoqiaUTVcnwppomkqgniZXacbhXcWcjeconqdagbhkgjmpmfefcZgfebpfjYXkdWagdXdjkhbjgYaemlmkilabaagkokjimcehglkdgUXifabhmdbbaeffniZdtkqodYZdhoXdgibgjciebogjfpmahdljnecZgiicYgaYfgXfbfYkinjdkgfbWdmkgomefkbjcmhidZhfhbYYcjmolfiojkfcfikbjaVdebkeeWgfdcbdaehkhkgkfgckiiogfgolchleWZcaXdkjefpgimWggbbiZklqokciddZmdlfVacefabrpnaSimkjidpigVgffchibaiefceacXbmjmZZflemjmhkpjbeaUdjkhgYgifgeaohqmghdhfVVgcbgccfjmfghjcZcilklegjjhdeifaZdZikkWZlemlnghlimgjaUaaegdjieaaVdijjjkfogiigjkaadeflWchfddnfgjfndhbkmdehdjjcfdmeerkeeZbfdZefgfeYdbmlllhfijgcedZgZcedcZefchfhrldejumfhikYcgXbdmihfaYdnngfXZglhfjhnYdhafkpokmkbffWjYbdihhgbgkicfefiiWeZcjebbWeglecfefncfedkmqjlnhokkldfZaljbbZWcgjaiefghkfedfhkaaemmqlceceebcegiiifjabdjjkcigcegcceiigmlfhfcdiXgibdhYZcmjmZigignolmigaeefkekfbXedhgiefalofcegZWZffhccgfbhfmbkjecejjofihpjYbdfhkkgmejaZaZjafjuefhYYejiggdmdfoegnfgWZiabZYiiomjmgfjjgeSYVlngdYceopqfgfffeejffihiZZfcjfZcfkkflfbeaihjZjkhhgfjgfmhifjcdXjacjhfnkdhbZbadekhhnndjefcegbfefcadefjgkhaieolhXjkjofghdieZbeggcfgfdiikdWadbgbdiioufnnfXhUgsqXfbdffbWZcYjmmgZkgkckYjomediljfkfWWXfdfidafbjfmkhidjjUflhjnooqkiXXadjiaZjndbikimZbfdcbaZhhdadkcdhkaUdcfejbektnqpphdjfegjeZgZdkbYYbbfmembfdcgXmmmeggiXedbmokhecijinmmlgdgUYdiUhdhpfeadfXXbhurncclfleeiecghaafYfdYfkgbghffZfkggijnndofdjigWekdkgfZagfjibhfgcfZgigfefikkgjmhbXWfhfhkgiiZdigahleilhgdfheZbhjngkdYjfgkcchdelhqsdUcmeXdaeVlfecjfhdiifcejnjhllcdUddpmgWafoifiechmgYZbehfnifdebbjlgmpiecaVekchijhfXXffkkgdigipqdjgTcYaYikffihjhkdXgqjedhihkeemecffhifbbblZcfhXbdZkhuibkhdiighdehinmibfcheYUVWgofjjhfhfdhehkgsifffhjfkgfhccZcfdkdcYhoqfgiXZdiffinjkcjcShYdcfgkkgjnejedhaidipoibdcYgcgdnihZbphhadYahiqhfdcdefjhhWiddfjfgmncdglcgdjdeeceaeehslmilhdiYWeeddcjaYfpfheglgfaehclleeigdjodhfmfbfhmffegfjjgcchiedYgfmmhZYVgWSbfjkkrndejjnkpdeWgmhcVecYdfiiffiflpiiXeegfijhfdeecgfhfhdglifahZYgfiekdckgigacVjjmjgeghedbclffeekkfkdimilibleltfZagcXbgfeacefgkkfdcYhfgdkgZdfcdUhqnndekbZgdjngklgacekfmhggchiojbeicdhjffjgcXQheYdhmchikjoqhfYfladafgfaYcifYadimkoifherjjngihaeihbdYYhlfgcXYbedcldhehighicoplXecflodZUbljnjffmkWYejlbekbbikafcbYkknhccoegmjihbicajgaYahckkfglneefjndkggcWWScchfakkdirniefeaffirbgchYZapjcgkoocgggheikglfWVaefZmqkijhiYWeVecfhliYVaighihedgijnZhkimingYYenkjedjcbbdaiidjilekfkeXXXfinkhndgkXdYldljYgflahghchlckicdXZekoddigeZWfipekkjlidedmgYXgfbehfjgcjkkmeedjhfmeZclnjZcccgdjkicaadjiYWfhdigiecpiklmefkoakefdadibehjYcbhafYednfmrnkZdcnklVUSeigfZbYgigmpjjjkhmrldUdUfhoScdjksmdafnhenfaacWaikjdXcngiehemnqhjdVWbedgcohcfdbbjimifejmmedZjkdeYeQaiglhgnkkjccZcfgnjhckfagjfgcbfllhfibaiighhcmfhfYedeffaXhajfnqofbgfcWiklagahUagkgXjicagpohknimmggeoagWVggiklaYdeWigoiacieaYcfgifemqfhjmaeiojheeeaaefdaZelnlYfjjYhigkgjgdkegbecbZVZdjttjVYegdgoijleaehjejjadiijnsjghqbfdkgUZabbgekdfacdfokkgZecmgcVakgibgbbaaijjlflrnrmmdagYVhgejihgadffhldYkfZYfnimnohjhSZZYbgfghfgijfmdekkeghkgmbdajaXchidkfcipgejkehXhmdcabkjaaaegmmjjgbgcedggbjfcagepheocfjkhhlmZYhjefdkfihZaXjkgifWiajiegnfYghheZeggkneddcihihmigjfmYedakgXcdcoiYffZkgdbjrjlkgfbZahhhaceWekdekfeZdphofginfgchgirefkbbcaWfhlledhfhgdioheiifeYhongefXbccgfdcabfhhdfhdfhicdheilnijkdjkldcljlgfdWacSRbidbtioibgcfchcYokilobhnhclikaadgjjXbhZbhfmjheiZZeghjXlhifZjjebnifgdfhjigkkofaZabdYfggklhcedogegooeVYefgcdVZllfdgrqcdfidbThgidjXigoiYfgctkjgflgihjgddccdhjjiZeXfagdkeolfZhhidhlpbWkfddfkcejcjkeamaZmnchcZbgbaffcddhqlncejifbRdhbgdjkemlnlYbjffhijheZZXfkiihfbdvgifeefkeYhkYcghdWhgjsmfigcdaegkggbmhkdbddfeVZmhmmfjmicghnedVUcjZZgjhllggdbadjhhogdmcadfjmlhgfargefihfeeXZXfaclhhVjifeakrgfdlejlgdngedfihibjgffejhfYYifdgZlglhfghZZfYfdejjhnfegjafjjoljefYUgmkibgdbcemkibZaZdamnfghfhfkiZbaZehionfgdrqlqkdXXcmgXdddhhbabefdkfdeffnxncfebkggfadYgWYXbgjjhhkkjlkorfhdadXcdaemcdgbccgcegimhfjnifgmgffdljicgabagdgijfXbbffkjkkgjddecdjkmgeidjhhhciVcccejhakrghgdeafdddhfmdhdcccijjfaasifbaajdhkndejclgeegiilfiilcZZUXYbaiajkmehikposjqlmnfbXbfYXXebdXecdkdgighVfmnhiiicghejiZVhdniclqnmhfnfYaXafacdainnjbXchifmejjbiolegZalfigfigWfabgchhejgdcfajggickcfeecgillihfeinhrkgeimVWXXWagjajhhhfmngfiiafWZgfiZhfdfneimlomakjhddhbfjjgbVZZZhegfjchlpiafmfohdbchoejVcVXgccgigfajmnijkipdZXefhbjkqfebefZdijqiklffYYWmhhdUXfdgplfkcaengqiZYdpibiffpflahighddaWhkicjbgbZfhbmkghimlgeZhlnfWgecXYcgdaehccejlsdkiglpdcijfhYbamjikfjhofndXWZdfakcZjjobabehiWfloiffnnmeedleaVigbiYgeZbcidlojaUeggkkighemlghfbZXjkgffgchjnYjjjbcgoegekjfjigfaafWimfhcXYggehjhcaihjfikeZbidghlfjjhfchilfmhbbkiZYadgfilfjohffncjYcUjjhneUhcehtglZeZhdjVehfghZZkjkjnkZSbjYWhbnoiehchkngfgdflpmphfbVZceVUTjhafmqpllrlmcckgcaadfbdbjefgYefiggZbiinieobfZYdellkcfnkfndZfhdemjjkgeYdiWZjdiifihjiXYilfcaienlemebklmhXYiebgYZYZljgefYgelmiflmfgijeaegjlZcloYXdhlumhfheZZggbgbehqmbcfVggbddWkfcnkofadfjldYiWdcffgojebjegkfikohpiediebddgbedXbcbemfkhedfbYbgrhedfujcgejjfinflkccciepdYkjhmbVgcgebcgeiefokecccbijliYahbdaboifbhaihhfkhkidnZrjXdggZecdfkkhedlhgYfgcfkfhhlcefigdcjhhiZjfddebehikokjZbbVfYdgomgljjbjeeZYZglfhhhfkhciprofijaXeZbhZXZifaeekhjairibbfkktmbVfZYbhflofbZYhamhlmphfkjdfhbbghbceikcbdffjihhnkbhfdWebWgihodgkbeilhknbXfnebfgjfjjbfWYehebgqfkkhdaajhokmlhecWeXZghZgbffijjbjomggaZhkcgcihdfZfknmfpgihaeghhageaffdYaZaghhlkchibdmedmnndcbcajgicchinllkfZbfohbbfgVoiiihlYdfhZeiikfgdfhgaeigfWbcYlcfkcikfcokpefflnZaagYfiijkfUZihbchlihoeihldlrgjccUWgefcffidbcklmcjmehdgjpebdkgeZfeiieilfVSgehfjecadhklkefXdinogbclkkjhfUdgjgddcideihkddkehcedjgosccdmfcmeecXcchkYZXcefoiicdrlbeeomodeheeYbZZiildicZihphijpnhhgcXdeffWgcYbnlfahrnhdajbSdcdmgghfbhbhfoifjefeXfcihaiqrgqgkhZacihbbXaegekpcYXflimkeaedekdYejjeohZbimvipfgdXimffpicdeYaheijcedaXecfXXemmokfikbfbjkbenejbWfigZbddhlhnljgkgikldbXahgcfdaidfimimkchbffhfkhYeVWZccgglmjnnggpiZdjljgahlcaehhedZWbYbdhnlsfZdaYhqqheffhdfgZXlaeiurjaglehefZhYkjejiZcgdZkdfYkZZlaiYdjihrtiigeajehfYZjfggfelfeihdehhlYbklimhehggckZadZWgmicfkidXZkncieiicgeajgohlgelajUaXipklhecYiamknhkkfiohdeZcegjhelpcddWZWgjfjdalnpebahVYdgkWaeccrkckipgcfiifdVdiilihgdbfgcYglinifkidikfjbhXjgXcfcehlhkbghgcdhihklflgajhZdcbiidkgfngcccgilphgRahgXbiigeeifjciriiiifgiYbhjfklgdWbYgiefihWgmZiegebhddlgXflhefepgbmkhcpfaigeZbjjiikmmbdgTceVaZedjdejckjfnnjkobihfdoZZXbYcemglhhkgmkgkgnhbhbegaiSgdpdbejgkbbZZfielfmlhkhdoedegZWdYcibdbfhqdgkpihdbclkefkidcfnjokiUgbWVbWXXcjjklikjqkrphhffeSdYcXfkgdeoifjhimmjeXbffeldcakeecffiehaZemngbnkjljfaecefbbYZgehjjejlligngedbccbdWajeZjefjjhgniijkpqiegilZhjfZYegeXhYglhbfgYWddVhebWYgmsnlnjrnjnpiTadgffagenjmYiSZahekaadijhdgfmfXYZbknlfkjkllmcibhelXbcibbYdaXgcimqpiligglkcdYdnoihecccdVXheieigecddifmhdkhkgbZcagdhiegkkblmfjhlgZbkgdfjnjbbhleefbjdchmhgeZYdfejmlgcjideietgddXcaZWbeinbVfkleknpigfdigeeheVmhdUfgecejqhlkgheijWfgfllkXdUUgdqlhghgebhedcekjgdifgjfelehggcZjhiekhhmnfenlYeYefjbeejcmaeZiZeegiibYhfpojkbcaXfelifgfgaXdkbgfijngmkliXbfkgfhlfcWgailfhdchbWbZnpmnambXmejofcbeieaglfcShagcgfdjoicagonchfhjjpnnkqbbdceZgdZcccXZcjcgjfefjonglihbkhjgWdfaiafnjeWYdaYgnnkgljbeYdenecfbklihhjgjihihccYbkbcWahkmeldgnZXfmjihhejdfifkqnfmjdVXhjiaYVdZggceehlnemklebVefmhgdiidjchcmgYkcjeeabeehhibegfiiiadggeadhiirhmlbhmaekjieiccciiZdaYccdfmijjkggcldZhmcYejgjijdUVedhcmjjdgrnabchchkhZYjafgnojheZbbamejhjjgbhjgggbffdedehbaknmonnjhZbddjjbZVcfaddfjcjndngdejfdclgXgkgieiiefahkfcjdZjZfddhffgeelhjjjhlolggieeibbdfdYdfjdXfaadiclhjjfkjhbbjooZfmididdabgcZhejgcfaijgmknlrkeYbffcXfahfYYafnjjglcbldkqjddbifcqghZilSZjkmgjdeckkflcmajceWTZZfckjfdmffhhpmijpgbZVWXoehiYWgkjqsidjmhfjgafikdjeXWZahkpeaeghkgZUjfeagkkedghccihjdifhifdqafmhmcYhilqedVZgcaYeniYZZcrYlmrjedhfgYcjompegehaZhcgllibiWidghefbelekkjjemfeeggcfbcbkhfZdeXYabhamfbiqmnifjotmbjhiaeUembdZeXebdlhddjjgldhdkefeZjilnebcdiigffkjbeZmcgagdeiZcXebailohhjhqpfdYdihghiebakfibdccfiiYlrgdiehgaimdbifokefdgbedjbgjfgfbgeggkafdakjjjZheodlfjgXbbgghlkeZhlpkjeZaebcfnlfZWcadflkcahjilcfgjotfbcZjifhgebdgfifigglikWZUbkgidZXejkWiigkqnjlojfbaZhXjidcchelcccegkfglfcbeffhlljhfigedafbgebdlpofjXZaYicbjfeXefegngZigfejjoZelmicapppigbhhejbddhmehddikfibZYXlmjddiVaWWlhrkhnkffcYaaogghjhekffZbbfaehlibeioonigVfbgfgbbirdYXkkkipjlcaVTiafaanfiojacncXcjmhgllhmkfcmnkggeidbZddfkaaUbakgbhfZfnllhiachlnjkkjjfVZiacYdfVgedZefmpkkbflmeZeeeYeglpiffiebighkelihcZdcefjjpfgknffUZZgcfdggkgdddZfknfcVdlgdZghgnokkphdjdlflfcfZbfYYdZbfghemggifgjjinlieggfineldXcXdfdfTbdcfimkpebgfekcYhghhgbgdfdnjpkkhehfoilkmdcTccdmYZaXfiYjgffiddWjmrtdiajcgikgkflkeidYhfWdhfihffdjofaaekedhjThhZYWYegerinoljlijkWdZfedZefjfdgehmkleYbhkhjddfbcbdgijhZmkaibfkfkkhachhkiljgadlinccgkkdYXagZccYheaqmhobgeojfefdfdmmdeWdegikkmiddZiefXckjiingccihkcceadgbgZdiiqkiieifkaehlndaZYegjgmngbYWbkcflomdhZXYkgYgeffjspdcdfkeaeVkjjfZVcmgffdghiidlcggmgfmkcfhqjggcjijgechcZkdfdceaebidYXlehchneXfgkjnmpndicdjjZYchfefdaccljlegfbfcZfundjhkcdjgdbehgeeecVfjbYmcenlgjipoocefaikbgeVeaddghkhjUeeeffjnlZfbibkdZdffngleghaahbknnhfffiokfcdfhlicYdgeYgfljkbXcZaefkhbYakirlkfmcdafkjkidjeckedkgnpicbjgccdfjgUSbhejheaYcehpnkejfllimgjbhZjmjaZfaadbfYcahdkYgoeljkidYZjlqkkgeYjbjaegiqiengZWiiipkgkeafTWZiicbhnedbUedpilmpljedjWcZZcgigeZcghjidfnmjloYehaSfmjcehifjibglmolfZfifjXdcbbikfalkihedbjorgfgegiicXWYcaWeegaeefkqrfgplefcZckmgfbZZjdckigaXbfbagjiibenmkpnjfgljgookfaWWebhYeffhljjcffYfkfWbaicjenrkimfXadkaekdcdiZekjgYcfadhjddjkedmhefjoordghcadifnfbTPjfYffplbdjgkkeedgsmnhbddWbgibkgZbehskcfhejljaaajlfebWbYdcjjmmhgdfYhddkilhZbcdiqllmdfYkllenicigfbbSZadjdlcacnleefkjgfhndfjgdkkcbffbbhcghkagZdakhfkjmjklbghkleYWddgdedffdcVdmpijkbhiplklffWejXeZbgabhggfjplelhbfdlclfVaeohbhZcdXgijZnidfgZjjimmmcdgfkbbdekcgfgegbhfkcimnogeeZfjhgZcaYahkfjjrYdhikglpmgaZbgcdbieZahfjgjjighZffieljhbidhgadfghfkoifWcVjidbiojcdeljihjhecdbYjgdmdcXdecjjbhicisiijkoifaScOflfdhglohgjkcfaihefddafbhgdsrkjbfcabeefichjmbbkjiegjgkfhabdihoedgYaglgdefgbhheYdWgfgoliggohbXgdeccagfighZdmmiimhemehjlYenljnhicYQZiWeekbfXggjWpmssmmdfaZfgggiaWfbZfhkfbikffmijkhYcibdaSWegngdefdkkpikmhjhhnbXfkghZcYjXimdimhmejhfUYamccmhZcggkbdReZfkedgjljgqmpkefhldjcaaihicjigeghlkhZcWXjfghhebZhgkhxqiegYcaXccdkdfggfiXegijgdnheialdfilopkbaYadccddplilidifYbgaZfcbfbledhkljjdcjjjidleijfeVdegclghhnieegacjcgdVjnacbkgnogbkggghaeajdUbUacdgmqswkijoeedbeglahiYedaZXaljgfiljfcjcdiimiffbadifeeeafjlglqjZdigedZdbZhhnfeffdnfeellegdYgccbicfebjplndhljhdgZgdddidnjghdbqbhrokidgcXZWcajgehccaknZhgjkpjmbihedjfddZbifbejfbXbgbdfkphjmZhcgdXmndhmmehhhdfbYebenyqZZYhkjghjgTaXflkbfaghkegjsngYaXcbgWWijgfhkcfqgnheiefjdamgddadlklffegdgkhfcZhckiieghgjcejhegigWfbbffdZbecgliekmookfbYTXhjkkklgaaXjfkneddgpkdfgfeddflgheafkhaXVWbdvjmehbiqkhdiiglljdeafcfedihiecedZgmihhibfZjhcaimohingVQaehhmehahfjUcfedejkjnlhgfgaeklngkokfWZTacddgflkgkkgfdYcidYcfebaeecggejnrlqpikmffnehddUeeZYgXZhfbbeghdjieigmkdgdljkmkfhfdcnecdcdXgpkehdbigibahnkhdjljgkWbZaelkdcnadbskdiWVjkeXbgWlmmokhogZabcolhlfcahhZZabfbjYWVVkhiiijgmlqkrndnjfZYehieWiadbbfibsecdbodmZabimpmiZlbeegjcfiefecfbifkgbZhgldWbeglkljnchihgcjaihjojgTbfddOdqhjoljgdicbfcekmehbYbjhgWYdiieielfffejilmpibidmhlffVZefdbhdZdffqfbikgiakihcoechVfidlgdfffgedbaicmhffhZjgebjnreXggiohpfadjjhdafbggkgYafeZjhfenhhghhZbfglfmmkkYgYagjcfWjhkcUcccdjjnimhgclmnjedfjdZaedfXehgqlhhaecacbZdcfmkbcdmpiggkfjqekkiZgbeadVTgiolhldibcabjoqijjhfkdZbhigiigeTaZhmgoiehihgdchghdZecdeflccceWihiiinpombdiegbhVZeVfZdleddkkhqnfigniggkgZbhjmccXWagjeaaimfcfhgiieimecdkllihkaXjfiifjbchgfikiYjXWkbabZhejkigjlhgcdpifjeXWieZifikifgodelgbnqqmeeehfbbWTbfccZkfkielnihfaaihkgbhegkahighefbhdhaifcajdefdeYebfmknjekciehikieeaehknkhZdfdVliebcbemheghmfhjcibflkhlldWbdahYchlngibggZcgjbgikbmkfeWeahliZcfffhakdfjjfqligbedbligdnisecbmnjnZZeZXcgXbbdcdkhrngcYciefhfaXclknnnciYZadckhciknlnfddcabcmejggnmdbbcgmjjdffffcrhbXVabeabamlehqdlcWfmmggnkgjbYgdghYclfcijgkrgcYefiffgbdiobVgZjjkilfYfUcblrZjekijiecgdpebZhZnflkghdabZenngffigilddhiedfdacdRaknmfhpemibtbddhhdVabfdWegjhnkbhjifilhaZgikdenlhlfdYjeYghcdgaaYhjeihheaZemigmdonmmkfkcfgjhcWaWdgmkfdXhjoeahdhgbjqphfeideaWhdUchehhcchfaiilgifiiidYeljelehprkeZdXYajjjfcfcaeheccjgmhghfghXajfhmhalhdhfddYjkjfkpeeiefdejdhjebcaajhgmfeajjfffdmcmigjegmleaejccgcVbabcleXfcibrhhldglhgidSjlogeekhZeTZanmpkagegYkhjokhomgfbYdfebdoldaaliheZhadabaYdjbffmmkfZkdjqgcfYjiahgjgeiijgicifkahbhehkofeakgkgdckhblWXaghiabgpwmcegggjfkbedcXaddjchjjfXXYbkpkblgmdcjddljiifdikihdageZXUgnofXbkgedqnjjcmchdfjbiYkqfdjjXUchggiZdfdhgjcXjqmneaadfbeemkfplhjfhTcdbilklkmcbdalffablniflgZYjdZdicagYjjclmibbibZfjkkgldjjejnZbaggeaVbYbbjkekjkjqlgimdbkjenkcVfibcfeYhpidcbifojdacbbdklmhahdWhibjocikpbohgkceiWaiddcmjngbRaffbjdfkdilfcVehgldkegmeijikafbdhjfYlfkkejolfabjjojiachWYggWfcZhYeccahkpfdgliflbbZghtkhcedicidkjielkhecXacfdpmihkYYfnZedcjknjkhgebcbiZhoolicideZfeghbXXaaemlokfeabehgnnshkjTdeYTmngeYkiaZkfoidakcagghknfZYhcaefZfheksoifhececijjcejlYiZedbcihifmcehhckhbikrgailocZfgdcZhlfdqeYcahceabakgegjadinfhieiefgkbekhnkdchdccgkdZghgXhbfiZceinnqaoffcjlfgfgfggkiXbaebggailnmgcZZfjefjbjfidbffikeYcjgbfkibfomnkmidsiZaTWWcZbacidhZhnztpllmfkXdfacafkWefghbdfmkYcjdldhhkdbbmgecbhgZglgjkehfmlleaXdWglZeZgecicjbfoeakimjlmafhihglealfYjeecWjmkddejgbYdichkfdhnhedeflibmdeadhfakolhfkchbZlkgbdelYlfddYigeeZdlihphfehllghZYbhbelljZccfaihjgchnjkrqhYiaZTkhejigbdfdWciblmaXXadenroolokgkhZXWZYZgnlpgehbhllkjgSWdWiYfjifolgidjkkafdjYbZllidkdkjhccZddaZmgkeecgegehlmkZfnflfjeXbhdcfeggghegffoqbfWdXfieigjfhacghnfccehcmljohbfhfkgeioacgfkhjlfNXdnfdZXgiZZgjfheefiicjohmnifeiabgkeibdmriaedakXgbmZZdfeZfifmkjghlXihmkkhhcghjdeZfedaXdhafjdicmchljgbhegmlkYehhkdgegZcZhfkoidnjlejbeegeeYibedbegYfhfjYfgddmvkgelhdgmnpZfgeZXXjiijdfhbTggcgXeYmkkhfhijcdiojcedcerjfheebihfagjpijfednhdighcfaaaYeZgjccelhmlhqmgfngcXefcdgXfTVdpmpigffpfddUellehifbcbdeflgYbglcYmohkxoiZhZeeeonWbicYbacfWfnmobfVefkjdhgdXhimmijVlhhddVfkligYhekbhhmgjigiahhdgkpfdbbbdeYqhefcbigffgmbflclliZVdYblginkheedlifcbkdimmZeadaifgckhbjpebdjlhidjgmcfhgcaingneXcfiiWaZTXagbfgjqltlhgmqgUabZcYjqhfnlcibinbXbiibelejebdaifeYijkjgjgjlmjbpgYdVZeZcgdmlfchgaiiZZbmikaYdijfbmnhhfecjikgllhWcdjoaZTajifgdinkffcbghqjddmmghjfeVbeblmdYgeefdamhhigifcklhfcdbkbkfcgeZZccchlhnpkjfkedagehegcmjjgcefhcgdXggcigihigenclkgcZbeakffaahWdkkmeokidbddjkhlbffjfhefdffihjngfdfgfXdbeclogfeliecbdacdxgihabcirlhfbafZcheogZXbgfigfjmwngZejgfjRZenjbXemjdVieWkmjhaXhifmnilifeYUXcnmlkeedebigegmojfiYWdiegbbbYbhjrqkZkihhikghdYZdihhegfiffkgehehibUeYkhfjaqnlfggjebmgeaYmeXddYXbcifihecknrlmclckafmiacjfefaoodfikWekdeaglneXidcTgchdihhcjkafbcihponklflfbcacThhgkhZWgmjliffhcbjbnZhdVgdkekgjejmiilYecfqigcalebfdggjhffhkfUXXiopVfdfaehblgXhpigjhklcfbopcfZXVfhcdmnihZcifffledffhhicejahbmcjZikkebdioeideqkljeikbXTWZdZbjgYdhlehmfommojehlagXfhdngehdgaccdheXgfcbcYgjmhginjkdhYdbefkkhlfliZddcpqjhfbYcbddechallfjlrdidfjacdcXihjbViholkmfhfdkhieakfbechfbfcafbeZVehkhhaikhnofcnkaadYilnjukiideYngZfWWfgZbbejegkhgfjbegkhghhqugdcdfcdfaheengiXbbXfgjkihfjekfdYgigiomlillkhdZbfhbiabUXabSeigfehkjgkmimlhgkmldedfagfldZbTbchgmlgkbhccghjglcfalmfZimjefqbhmdiZbWfZefZnjfYhilahnighfgadYYhodmddjlehbZhijnfhffffcaYjhbeafjldiehhfgneihcUWZkgcejhgnmpnkhcgiYbhamefiggacXbfbZddiefkooljlhimjjcVcmlfhdaVXgfnaehhfijoikhichbeXZVajeZoghebgfkikglifjiYZhealafgfhbehqffciigegeqnebdWebgiiocieiajjicgecdkeifdeefcgjhagoqlcjgiieceYbcVdjaagecZbjkkhmnneklfgZcfZciafgomiadhmmffafcfdVimgcikkaWYehldgeffbgjnedqfljflnkgabZeelfljlWZYdiojjmhdeZTfZeinnacZffZcfcdYkojXkskfeclfgeifkhZljkpfjdefffjfWVWmiifkecogncbhdloglkZYYYZiZlhaglgckfgdlhfiiffdeeXbjeegkefdggYgkliiaZhhffjgghafecejjhdnlkafghhkmjiZggmnmbdXecgWVVbgldhjggcijgdaecekijlliWbfZcjsopehmgeYiccdVbeZdfmelkihmjffhVhilhfcihebkZdkgigoffecXmgjfgmmZZbaWUcocfXYggdhkkchlmrijlnaXekccahjhilricegedfdidXbacfjjjggchjeffbpldZkcgfelVXdhedallpehfjdffnjhjskchabYefcihieeXakeebhjeZjgqolideaYWdZihajfnjmZclljhogkfijcZXZigaeaedjhlfkhlnkehkciXVXcafcelacbghkjdkiimhglbhiljhfdbXdjggdkcZVekfjohohaWfgmrrcYbjjifclgaWdXXjiRcdfibfonljeprigbjdldihZifXgbegjgkbbdidlojggZchfjibfZZecifdafgWjjXfgpmmijidcYgheihijZXeefmmienhkficeecgajcjlccedkogdgiiccdfeebZgkiYbcfljgfdegjkdjuqbkijgeZZSadbihcihlqfdececXZaalhrlifcZcjkpeiijnilnchecgedegjkebQakgfeegSenljefdhelpnjajXSXfcachhmZihlikekgggYgfiecYjmbegggpephehdjjkjhebdXdVaYhglZedfclkgjjlilgkqebchfbWjjWdffYdlghifjlnlmfjfhgfjmehZVWWddcecihejkiogjcemfbbjkgdebegdancWeehrfjgkmffadhoibehVegkbYbcihbffhlhelkldffqqlgeiXTaXUdffikpjklhjgjcdelXfeYYdgdjjlgdXggoppkdjjfeacYefiflgdejdadUcdmllYTZgjmcZgjhmtvjhgZfXYggbiihWehihhkjbfdijkmhjficffkddbaUidghmeeccWeegjqohdhedgkcgglkgdgjebaijdfcZUYdffmmchjkihgbcchhgeflgfdpophZckhijfgleeaYighjfdacccfhifdhhibYdeadcdgecfhhilkfelitnigjjfgfXcdiidjbadacgdhiikifXecgkijjelffdZcafnfguqeXepcYbflkghWUbdbijfdjejloidnpkidcbcYfaehhdYgYYaiplhlioedldfmmjhelfaYbcdWUbdljelagjgejigiYdpmmfheZcaffbehZhdgigmclfglpiecdidicVYhcedigoitvlkaWWdiggWebbibkcfcbhhjggnjgngfdjfhYeeehkkXZfechcamlmhfflghhdXrgVYeclfglfldbfaefdfgofiklVYafcibelnjhgbimgkmgfccXedgakbldjkedbajdjjjjemmsrfdYYghXckjgcceZWcXagkfehhjmifgomkeXgehhdkljaefhiiWglheiUZeifgedmkhchYcciekmklpgieegckdUXbhiTcgfaeinneikkkhpbSfdlccljlcflhjefpYaVbhdfocZdbohdoimmichaZjUabijegbckjkkllfpkigfaabfeifehfbfafdXfiebipjcfXhlpqldfcdfYcbgeYfgfjcinksujbbUbZZdkofgbclkehhekiieZaagfkjhkgdfadaWgfZhdkbiomkZZooumgiYcbebbfhfggiljdbfbdbYcejcmhfckhnniqocXVaejmfXdeciWhlmZXdoghjglgkhffcjXXeljfhgUfeieijjcjfafecelxigfflZggcZWamdkfkkefdljidbdWfkdbcjlclnkodhdihTfllfhaVfhjfYWkccggkgglpahmchghjjfbXeedcfcijiljeigjdedjjkkggfbeUffcedWifileffohnhkhYXbgbfbcgefgkmolkgjcegiZdjghdceiZZXekmkdbcdmmurffeciaaedbddifhefgedfimfjqhdZkicfgZgddjeehgiledgkacfifmccYebejXafkjkillZgjgfZkgjojgjkfUdcgmnhdfagfghZZeZgmhcjdellekljmegmfkbVjcVXbdkcedkjfichoifgadoigddakZelahjecgjhdkmpgcabVYVhoecmlhfdgdfgkkefdnlgheZhbbhbfejokdefjhdbemmdgadfcYaZgijknmkgekZnqjhYVefjaddfcdehmfddfejbalfomjmfcflbbcadhglladdiemdgjecVVXfiluohvmjgfbbVbeZdbfZWbhhmhimhkhkkgnemhkaVagdafnmhjgkaafejeffeddfdchgdbimlildiXccfhicigagebkblecjgsmdhlkgbcdpfaebgghfecdcdgdhikdagigheYdZfklpgdeYdnilljlWWXdcngejgecdigdefiiffpdjlZZWelpgcimnjegfebgcmgWdYffkddYlgmnjnlhidWibZffgehihhebghgllZbVhcffbgcdkmilihiajbgefcoqcXdbleZgphelffbbbaiegljbeighjjgkcbknsbhlZYbYXdnpgcYThkkkchmkhideigdbWeihojlpXWbVYceibegqmVhhinohdffigicbekhdnjlkhdhmfdWZfbigimdaefefdgiYddafkflggephXliedfcWfbhmkinhqghhcVReZkhfXeblefVjkkgdqprhfmmlfcfcgedYajkledidcdceebneejdikaXYienjifjhndcTSeZinddbekihpgimqeebedilkikmkhngSZhZUgjabfdgbeXcgaefkmloifhdnidllngcdfkicddYcUdXjobhgdehegkikngklpfidebebaZdVahehcfeejhkbjelrkfacbkgcdlcdagfbieiiophcebgpgYinhjhYXdcbYifjlebolicfkjkafhkTgjeffjnZbhemdjkeddgbbaZfgbncahhejkppibbhdfdZchlkjcgfscbhkgbcdgdifedjhgkpbegiaWafedhdipijgilhgfiaddkgbYZghagkgegehslfgegifZfcffcnkdnklpecfeZacbXcfjefbqohYchchhjffcbcYahbggsqcceknhfmbXbfYghpgccknlgadeldghjgjeehZhnjogjkegZbYSccdagdjmjliohfljaZdhaYhaSjkhihlgfnijijkhafkcjhfYbcdeehmknjmcUXYceXmafchknjkcj";var B=[0,18,36,54,72,91,109,127,145,163,181,199,217,235,254,272,290,308,326,344,362,380,398,417,435,453,471,489,507,525,543,561,580,598,616,634,652,670,688,706,724,743,761,779,797,815,833,851,869,887,906,924,942,960,978];var A="ABCDEFGHIJKLMNOPQRSTUVWXYZabcdefghijklmnopqrstuvwxyz0123456789+/",W=1096,H=978,L={};for(var i=0;i<64;i++)L[A.charAt(i)]=i;var im=x.createImageData(W,H),d=im.data;for(var r=0;r<54;r++){for(var y=B[r];y<B[r+1];y++){for(var i=0;i<W;i++){var q=L[S.charAt(r*W+i)]*3,o=(y*W+i)*4;d[o]=P[q];d[o+1]=P[q+1];d[o+2]=P[q+2];d[o+3]=255;}}}x.putImageData(im,0,0);})();</script></body></html>
